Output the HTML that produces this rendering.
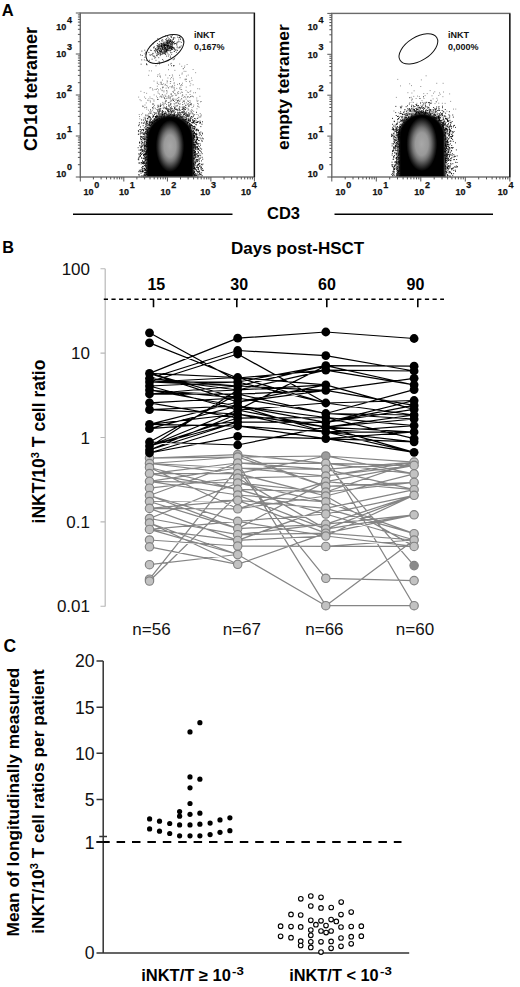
<!DOCTYPE html><html><head><meta charset="utf-8"><style>
html,body{margin:0;padding:0;background:#fff;overflow:hidden;width:520px;height:987px;}
svg{display:block;}
</style></head><body>
<svg width="520" height="987" viewBox="0 0 520 987">
<path d="M194.5 145.7h0.9M201.7 170.6h0.9M137.9 134.4h0.9M196.1 133.3h0.9M155.7 120.7h0.9M144.2 138.0h0.9M147.2 174.3h0.9M140.3 153.7h0.9M201.7 157.3h0.9M193.7 172.8h0.9M195.8 139.6h0.9M202.0 121.8h0.9M167.8 115.0h0.9M145.8 137.1h0.9M142.0 161.9h0.9M193.7 172.3h0.9M196.4 136.9h0.9M139.0 156.8h0.9M179.7 112.7h0.9M196.1 134.7h0.9M184.4 113.3h0.9M144.6 145.5h0.9M186.1 113.1h0.9M196.6 171.4h0.9M139.5 171.7h0.9M153.3 116.5h0.9M178.9 112.7h0.9M144.9 145.8h0.9M153.3 115.8h0.9M143.5 144.9h0.9M143.2 130.8h0.9M193.6 136.1h0.9M147.1 150.1h0.9M147.1 146.6h0.9M144.6 170.0h0.9M193.2 166.6h0.9M199.5 143.7h0.9M194.6 168.7h0.9M166.5 109.3h0.9M184.6 119.4h0.9M193.2 130.4h0.9M140.0 156.1h0.9M190.5 118.4h0.9M193.4 139.0h0.9M146.6 154.5h0.9M144.2 136.9h0.9M146.1 130.9h0.9M194.0 152.2h0.9M146.7 134.4h0.9M150.5 113.3h0.9M195.6 120.9h0.9M193.4 140.4h0.9M200.0 158.1h0.9M193.1 163.0h0.9M144.2 150.9h0.9M196.6 130.2h0.9M196.4 143.8h0.9M189.2 123.3h0.9M169.4 113.7h0.9M194.0 150.5h0.9M138.6 150.1h0.9M176.0 109.2h0.9M143.7 144.6h0.9M197.7 169.1h0.9M157.1 119.6h0.9M194.1 158.1h0.9M197.6 151.5h0.9M184.3 109.8h0.9M156.5 120.3h0.9M176.1 116.2h0.9M194.2 171.4h0.9M151.9 122.6h0.9M162.8 117.2h0.9M169.9 114.4h0.9M139.4 129.6h0.9M157.3 107.1h0.9M197.5 174.6h0.9M149.3 123.0h0.9M139.9 155.8h0.9M193.0 165.0h0.9M143.2 163.0h0.9M200.2 155.7h0.9M155.5 113.3h0.9M148.0 128.8h0.9M197.4 164.6h0.9M143.7 154.5h0.9M183.7 106.8h0.9M159.0 116.1h0.9M158.0 106.2h0.9M172.0 114.8h0.9M170.4 103.6h0.9M146.7 140.4h0.9M196.6 138.9h0.9M140.6 152.7h0.9M166.3 112.9h0.9M179.5 116.9h0.9M197.5 137.7h0.9M147.4 131.4h0.9M144.9 158.9h0.9M161.9 114.9h0.9M142.7 125.7h0.9M146.1 142.9h0.9M194.9 175.3h0.9M201.5 124.2h0.9M141.4 171.6h0.9M147.1 143.6h0.9M140.0 136.3h0.9M193.0 148.9h0.9M147.8 129.7h0.9M147.0 144.2h0.9M142.4 145.2h0.9M196.5 137.6h0.9M154.4 112.6h0.9M193.4 128.6h0.9M145.3 115.1h0.9M193.1 138.3h0.9M140.0 170.1h0.9M152.4 117.4h0.9M142.7 171.4h0.9M189.6 124.6h0.9M160.9 115.1h0.9M146.8 140.6h0.9M148.9 116.4h0.9M143.9 170.3h0.9M140.9 149.0h0.9M146.7 150.0h0.9M156.1 119.7h0.9M158.6 117.0h0.9M177.3 114.1h0.9M163.2 114.6h0.9M183.3 120.0h0.9M144.7 175.7h0.9M146.9 150.7h0.9M196.4 162.0h0.9M168.5 115.9h0.9M186.3 114.8h0.9M197.1 160.8h0.9M145.9 159.0h0.9M193.8 135.7h0.9M141.1 136.9h0.9M143.6 154.9h0.9M144.6 153.9h0.9M138.4 174.8h0.9M141.4 158.1h0.9M180.3 113.2h0.9M195.3 124.3h0.9M142.3 142.5h0.9M146.9 146.4h0.9M172.8 115.8h0.9M146.7 142.5h0.9M196.4 136.6h0.9M143.7 151.6h0.9M189.1 125.8h0.9M178.6 108.3h0.9M138.2 125.7h0.9M146.6 142.3h0.9M176.7 109.9h0.9M138.8 124.7h0.9M158.2 118.0h0.9M199.0 173.4h0.9M162.8 111.8h0.9M196.0 169.9h0.9M142.0 137.0h0.9M141.7 149.4h0.9M194.2 118.5h0.9M188.7 121.3h0.9M171.3 108.8h0.9M174.2 114.4h0.9M145.2 153.7h0.9M146.8 171.7h0.9M173.9 115.5h0.9M146.2 153.2h0.9M195.6 142.7h0.9M184.9 119.5h0.9M196.1 175.1h0.9M144.1 165.5h0.9M196.3 142.0h0.9M199.2 150.4h0.9M198.0 164.3h0.9M193.2 168.1h0.9M196.1 142.6h0.9M185.1 121.6h0.9M145.3 154.9h0.9M149.2 128.1h0.9M145.0 172.9h0.9M190.1 127.9h0.9M194.2 120.7h0.9M172.7 116.2h0.9M145.2 169.7h0.9M193.0 122.6h0.9M196.5 157.1h0.9M163.6 116.6h0.9M151.5 123.0h0.9M200.1 145.2h0.9M196.0 140.4h0.9M197.5 148.8h0.9M196.9 161.4h0.9M193.9 167.0h0.9M198.7 163.9h0.9M167.4 109.1h0.9M196.0 143.9h0.9M146.3 176.9h0.9M194.5 144.6h0.9M147.0 151.0h0.9M142.5 150.4h0.9M157.0 110.1h0.9M159.1 111.4h0.9M141.4 169.8h0.9M193.3 120.8h0.9M144.3 133.8h0.9M145.1 145.9h0.9M202.6 170.2h0.9M143.1 138.9h0.9M197.9 169.6h0.9M150.4 125.8h0.9M164.0 115.5h0.9M158.1 116.7h0.9M197.0 159.5h0.9M145.9 167.0h0.9M190.4 127.0h0.9M194.7 127.2h0.9M192.6 121.0h0.9M182.0 112.6h0.9M145.6 123.5h0.9M146.7 125.3h0.9M197.8 130.4h0.9M198.3 155.4h0.9M145.5 137.0h0.9M164.0 98.2h0.9M143.9 127.8h0.9M193.4 146.8h0.9M197.4 137.6h0.9M192.1 120.2h0.9M194.1 132.7h0.9M192.8 133.4h0.9M194.5 168.9h0.9M192.9 138.0h0.9M192.0 131.6h0.9M156.6 117.2h0.9M196.3 167.4h0.9M149.4 117.4h0.9M142.2 170.6h0.9M195.4 156.2h0.9M194.4 167.6h0.9M200.1 151.1h0.9M146.5 123.5h0.9M191.1 125.4h0.9M179.0 115.5h0.9M183.5 108.8h0.9M181.2 116.7h0.9M138.5 134.0h0.9M154.7 120.6h0.9M183.3 119.9h0.9M202.0 133.9h0.9M172.8 111.0h0.9M199.6 174.6h0.9M146.8 149.9h0.9M146.4 146.7h0.9M153.4 119.2h0.9M139.3 143.2h0.9M183.6 117.8h0.9M188.7 106.0h0.9M192.9 173.5h0.9M185.9 121.4h0.9M196.3 129.4h0.9M192.8 174.9h0.9M144.6 149.2h0.9M199.3 166.5h0.9M194.3 175.2h0.9M179.6 110.5h0.9M194.4 152.3h0.9M139.1 142.2h0.9M200.0 122.4h0.9M193.7 121.9h0.9M142.2 129.5h0.9M195.5 134.8h0.9M190.0 120.6h0.9M194.3 136.8h0.9M182.5 108.0h0.9M176.7 116.8h0.9M194.9 147.2h0.9M174.1 113.5h0.9M150.0 109.9h0.9M147.5 127.4h0.9M142.4 138.9h0.9M201.7 141.4h0.9M193.6 136.5h0.9M195.6 135.8h0.9M151.8 122.6h0.9M194.5 144.6h0.9M199.3 132.9h0.9M148.8 121.7h0.9M195.4 173.5h0.9M170.4 115.3h0.9M153.8 121.8h0.9M156.6 115.3h0.9M144.9 172.5h0.9M194.9 156.8h0.9M170.1 108.9h0.9M195.2 147.8h0.9M146.4 141.7h0.9M196.9 156.9h0.9M149.3 123.1h0.9M142.2 163.6h0.9M197.2 173.0h0.9M182.7 118.8h0.9M199.5 174.9h0.9M197.5 143.7h0.9M189.7 127.3h0.9M193.1 126.6h0.9M156.6 118.0h0.9M198.8 133.0h0.9M175.7 114.7h0.9M168.0 111.1h0.9M194.4 144.4h0.9M173.7 115.5h0.9M167.7 116.1h0.9M138.9 170.3h0.9M164.7 112.3h0.9M161.6 113.0h0.9M202.3 159.2h0.9M146.3 139.3h0.9M146.6 125.0h0.9M146.5 174.0h0.9M160.3 108.6h0.9M198.8 140.6h0.9M169.8 107.6h0.9M141.7 141.0h0.9M195.5 146.4h0.9M190.1 125.7h0.9M187.5 116.0h0.9M199.2 171.0h0.9M190.9 124.6h0.9M145.0 120.2h0.9M144.8 176.9h0.9M197.8 167.5h0.9M157.4 99.4h0.9M145.1 160.5h0.9M189.9 117.7h0.9M145.6 172.9h0.9M176.6 105.9h0.9M194.0 172.1h0.9M187.3 114.4h0.9M194.9 142.1h0.9M141.6 171.3h0.9M152.5 120.4h0.9M140.4 137.2h0.9M157.6 111.7h0.9M188.6 120.7h0.9M143.0 120.0h0.9M141.3 176.8h0.9M166.7 114.6h0.9M141.3 167.7h0.9M197.3 121.6h0.9M146.2 168.0h0.9M190.0 127.8h0.9M197.4 149.0h0.9M146.4 121.7h0.9M144.1 154.9h0.9M145.7 144.6h0.9M187.4 115.4h0.9M166.0 106.9h0.9M170.1 110.4h0.9M195.1 141.6h0.9M140.6 173.2h0.9M165.8 108.7h0.9M193.8 172.8h0.9M138.3 159.8h0.9M145.7 174.6h0.9M196.1 112.3h0.9M190.9 125.7h0.9M139.0 163.0h0.9M151.1 121.7h0.9M141.5 175.5h0.9M191.3 130.8h0.9M140.9 141.7h0.9M201.9 168.6h0.9M197.9 164.6h0.9M152.6 120.5h0.9M195.9 159.9h0.9M196.8 153.7h0.9M198.0 152.4h0.9M196.7 149.8h0.9M185.7 116.6h0.9M194.0 135.4h0.9M140.6 132.1h0.9M168.4 105.7h0.9M138.3 171.7h0.9M154.9 116.7h0.9M193.5 157.1h0.9M201.4 140.4h0.9M156.2 117.6h0.9M194.3 175.1h0.9M173.1 100.5h0.9M191.4 122.6h0.9M147.2 145.3h0.9M167.9 113.1h0.9M198.3 172.2h0.9M144.6 155.2h0.9M149.8 120.1h0.9M193.1 150.7h0.9M192.2 117.1h0.9M197.8 130.1h0.9M195.7 175.3h0.9M154.6 118.5h0.9M185.4 120.0h0.9M150.9 119.1h0.9M144.7 119.0h0.9M200.0 123.0h0.9M183.8 111.4h0.9M174.6 106.1h0.9M148.2 124.2h0.9M197.0 147.6h0.9M196.8 167.4h0.9M193.9 168.5h0.9M164.0 116.9h0.9M182.3 119.4h0.9M198.6 158.0h0.9M194.2 174.8h0.9M145.3 139.1h0.9M201.2 149.1h0.9M146.9 149.2h0.9M167.4 111.0h0.9M146.7 135.3h0.9M154.2 120.9h0.9M182.6 112.0h0.9M146.7 127.6h0.9M144.1 154.4h0.9M171.5 111.6h0.9M183.3 114.1h0.9M195.4 149.0h0.9M193.1 173.9h0.9M198.3 175.1h0.9M143.1 155.7h0.9M195.0 151.8h0.9M159.6 115.5h0.9M147.1 118.7h0.9M156.4 120.0h0.9M145.2 159.2h0.9M196.7 175.7h0.9M146.0 162.8h0.9M193.9 133.5h0.9M146.1 121.8h0.9M142.3 150.1h0.9M146.9 132.6h0.9M188.6 119.8h0.9M144.0 163.0h0.9M161.9 110.5h0.9M192.9 116.2h0.9M143.6 162.4h0.9M173.9 114.9h0.9M155.0 117.6h0.9M186.5 119.7h0.9M193.3 134.3h0.9M163.8 113.6h0.9M145.7 133.9h0.9M149.0 123.0h0.9M195.2 169.3h0.9M185.2 115.4h0.9M189.7 104.5h0.9M182.1 112.4h0.9M146.3 152.6h0.9M143.0 129.6h0.9M150.9 122.3h0.9M174.1 108.7h0.9M139.9 153.8h0.9M156.5 118.3h0.9M160.5 117.0h0.9M142.2 146.1h0.9M186.3 115.0h0.9M138.6 174.9h0.9M201.2 172.8h0.9M145.3 169.6h0.9M143.7 143.5h0.9M197.0 146.6h0.9M143.9 142.7h0.9M193.8 162.1h0.9M144.9 157.3h0.9M176.6 116.4h0.9M177.2 115.5h0.9M161.5 111.8h0.9M188.4 118.7h0.9M194.1 152.4h0.9M194.2 155.1h0.9M147.9 127.9h0.9M145.9 168.2h0.9M174.1 107.7h0.9M188.1 120.1h0.9M138.9 122.8h0.9M141.0 143.9h0.9M142.5 176.4h0.9M158.6 110.4h0.9M190.7 104.8h0.9M171.1 112.9h0.9M159.4 117.0h0.9M195.5 165.4h0.9M188.2 120.3h0.9M171.6 108.5h0.9M140.8 133.2h0.9M188.3 116.7h0.9M152.3 122.9h0.9M145.7 173.8h0.9M155.1 116.8h0.9M178.4 112.7h0.9M173.1 115.4h0.9M164.1 113.4h0.9M145.4 128.8h0.9M173.8 115.5h0.9M147.0 129.0h0.9M149.7 119.9h0.9M154.8 119.8h0.9M146.5 170.6h0.9M197.0 138.6h0.9M167.4 110.2h0.9M146.9 152.6h0.9M164.9 101.8h0.9M139.4 176.2h0.9M187.0 122.8h0.9M143.9 148.8h0.9M145.8 128.8h0.9M158.3 114.8h0.9M195.2 157.5h0.9M193.9 132.0h0.9M161.3 117.9h0.9M198.1 143.9h0.9M199.6 173.0h0.9M146.5 145.3h0.9M146.3 163.1h0.9M141.0 154.5h0.9M195.6 130.3h0.9M194.0 137.3h0.9M194.3 126.3h0.9M140.1 127.0h0.9M143.4 158.6h0.9M140.0 153.0h0.9M146.7 136.8h0.9M202.6 170.5h0.9M143.9 139.3h0.9M152.0 107.7h0.9M180.4 116.4h0.9M179.4 117.4h0.9M188.3 119.9h0.9M200.6 168.6h0.9M197.8 153.1h0.9M141.2 119.9h0.9M142.5 166.8h0.9M194.4 148.9h0.9M142.5 163.4h0.9M160.7 113.8h0.9M143.4 161.8h0.9M142.4 132.5h0.9M143.4 134.4h0.9M201.9 175.8h0.9M155.0 120.4h0.9M188.4 120.1h0.9M189.9 126.0h0.9M198.8 171.6h0.9M199.5 153.9h0.9M193.6 136.6h0.9M198.2 148.6h0.9M184.1 120.8h0.9M155.6 119.2h0.9M164.4 113.7h0.9M162.8 116.4h0.9M196.1 159.4h0.9M143.7 168.7h0.9M146.0 144.6h0.9M194.5 147.7h0.9M195.3 149.8h0.9M194.7 146.1h0.9M146.4 146.2h0.9M192.0 128.1h0.9M151.1 124.2h0.9M142.5 170.2h0.9M144.1 174.2h0.9M150.4 118.9h0.9M190.7 103.7h0.9M142.7 123.0h0.9M194.4 129.3h0.9M195.6 154.7h0.9M148.7 116.6h0.9M201.1 152.1h0.9M189.4 123.8h0.9M138.7 154.7h0.9M197.2 118.4h0.9M194.4 175.0h0.9M144.3 163.5h0.9M188.5 121.1h0.9M157.6 116.0h0.9M149.2 125.3h0.9M201.9 133.1h0.9M196.6 129.3h0.9M142.7 138.1h0.9M186.8 122.5h0.9M146.7 133.2h0.9M149.9 122.4h0.9M194.0 176.1h0.9M145.9 151.8h0.9M158.7 118.6h0.9M162.1 115.7h0.9M194.0 154.3h0.9M137.7 147.7h0.9M197.0 144.2h0.9M142.9 154.2h0.9M195.1 134.2h0.9M154.0 119.1h0.9M140.7 162.5h0.9M145.7 153.0h0.9M192.7 128.1h0.9M183.3 108.7h0.9M197.4 176.8h0.9M145.0 131.6h0.9M202.8 138.8h0.9M193.0 160.9h0.9M146.8 130.8h0.9M200.7 167.3h0.9M146.1 142.7h0.9M195.6 153.8h0.9M163.5 107.1h0.9M143.8 145.4h0.9M181.8 118.9h0.9M149.1 128.4h0.9M198.5 155.5h0.9M195.6 141.6h0.9M196.5 166.8h0.9M141.7 151.0h0.9M184.6 113.7h0.9M143.6 176.2h0.9M188.2 112.9h0.9M195.9 124.8h0.9M162.2 114.5h0.9M198.4 160.1h0.9M197.8 167.7h0.9M142.0 160.7h0.9M142.0 171.5h0.9M199.5 165.6h0.9M140.2 149.8h0.9M193.0 158.3h0.9M195.9 122.6h0.9M160.1 105.7h0.9M198.8 159.0h0.9M141.1 130.2h0.9M193.1 163.5h0.9M146.2 142.6h0.9M197.1 165.8h0.9M143.0 177.0h0.9M199.6 121.1h0.9M201.7 153.7h0.9M193.2 132.1h0.9M147.2 134.7h0.9M184.0 114.4h0.9M144.2 139.0h0.9M164.6 113.8h0.9M177.1 100.8h0.9M155.1 116.5h0.9M182.7 112.2h0.9M142.6 138.1h0.9M148.7 124.4h0.9M196.6 134.2h0.9M146.0 154.0h0.9M144.0 156.7h0.9M193.3 159.2h0.9M157.5 118.0h0.9M195.7 175.3h0.9M166.2 108.7h0.9M195.6 160.4h0.9M149.6 121.6h0.9M137.8 159.3h0.9M167.1 110.8h0.9M148.9 124.7h0.9M178.3 114.0h0.9M140.3 147.1h0.9M138.4 163.0h0.9M194.6 151.9h0.9M201.0 160.9h0.9M189.4 126.5h0.9M185.0 109.4h0.9M146.9 159.5h0.9M142.9 130.4h0.9M139.8 155.8h0.9M141.0 146.9h0.9M197.9 145.9h0.9M196.5 154.2h0.9M157.9 112.8h0.9M146.3 159.8h0.9M148.0 132.9h0.9M179.1 109.6h0.9M198.5 159.9h0.9M143.7 140.0h0.9M145.3 124.8h0.9M144.9 157.4h0.9M168.0 109.2h0.9M145.7 129.7h0.9M190.3 118.8h0.9M139.4 145.7h0.9M168.8 111.3h0.9M145.6 174.5h0.9M138.2 131.6h0.9M146.7 152.0h0.9M198.3 121.7h0.9M193.0 121.9h0.9M148.4 125.6h0.9M187.1 116.1h0.9M145.7 126.7h0.9M140.2 138.4h0.9M194.6 142.8h0.9M146.9 127.3h0.9M143.8 148.2h0.9M193.7 126.8h0.9M189.8 124.8h0.9M143.4 164.0h0.9M164.4 107.9h0.9M183.6 116.6h0.9M193.3 168.5h0.9M195.9 170.4h0.9M186.2 118.7h0.9M187.8 115.8h0.9M183.6 119.2h0.9M193.9 126.7h0.9M142.4 142.8h0.9M193.5 145.0h0.9M160.5 117.0h0.9M162.1 114.3h0.9M145.1 132.7h0.9M195.5 140.6h0.9M169.8 111.9h0.9M184.5 120.2h0.9M199.9 134.2h0.9M146.3 146.3h0.9M166.0 114.2h0.9M146.3 129.4h0.9M142.5 162.1h0.9M145.7 154.7h0.9M185.6 119.7h0.9M141.3 149.9h0.9M142.6 171.1h0.9M199.5 137.8h0.9M153.3 123.0h0.9M162.0 112.5h0.9M154.0 119.2h0.9M192.8 144.4h0.9M145.5 146.3h0.9M184.7 113.0h0.9M195.3 154.0h0.9M193.4 147.5h0.9M198.8 135.1h0.9M199.0 123.0h0.9M185.4 105.2h0.9M193.9 164.9h0.9M173.3 114.3h0.9M199.9 148.2h0.9M193.4 145.6h0.9M145.8 122.4h0.9M194.4 128.1h0.9M146.5 170.6h0.9M200.8 169.6h0.9M144.8 154.3h0.9M137.9 130.6h0.9M187.1 115.9h0.9M145.2 164.8h0.9M145.0 149.1h0.9M188.1 122.5h0.9M194.9 155.2h0.9M140.9 136.9h0.9M182.1 109.5h0.9M144.4 160.9h0.9M144.4 135.8h0.9M193.8 144.5h0.9M165.3 108.6h0.9M185.6 117.5h0.9M182.5 116.7h0.9M142.2 172.0h0.9M165.6 116.0h0.9M150.8 124.2h0.9M146.3 131.7h0.9M194.3 155.6h0.9M192.9 121.7h0.9M146.4 147.9h0.9M201.9 138.1h0.9M198.0 140.4h0.9M194.0 132.5h0.9M181.2 117.5h0.9M147.1 130.0h0.9M155.1 116.8h0.9M181.0 112.2h0.9M144.1 146.2h0.9M193.9 146.2h0.9M193.4 137.6h0.9M171.3 111.6h0.9M145.8 153.3h0.9M157.9 113.3h0.9M158.8 114.6h0.9M194.9 145.1h0.9M143.0 155.1h0.9M186.7 115.7h0.9M143.9 175.1h0.9M144.4 147.7h0.9M157.2 119.1h0.9M185.1 107.6h0.9M186.7 116.5h0.9M191.9 125.5h0.9M183.1 114.8h0.9M141.1 139.6h0.9M164.9 111.8h0.9M143.7 168.7h0.9M165.2 113.7h0.9M195.1 133.6h0.9M198.4 149.6h0.9M144.2 122.1h0.9M156.7 120.0h0.9M180.7 114.8h0.9M144.9 175.7h0.9M147.1 121.1h0.9M145.1 126.8h0.9M190.1 121.2h0.9M193.3 147.2h0.9M146.1 150.8h0.9M200.5 138.8h0.9M197.0 139.6h0.9M153.9 114.5h0.9M169.6 98.2h0.9M197.5 165.3h0.9M197.8 168.7h0.9M146.1 133.6h0.9M193.1 142.4h0.9M159.3 109.6h0.9M198.0 149.1h0.9M193.9 128.5h0.9M149.8 125.3h0.9M181.9 117.1h0.9M168.0 111.7h0.9M145.8 143.8h0.9M159.7 110.7h0.9M193.0 171.0h0.9M158.7 118.2h0.9M156.0 115.7h0.9M139.9 150.3h0.9M141.1 157.9h0.9M144.6 159.0h0.9M149.7 120.8h0.9M141.3 146.7h0.9M144.8 133.4h0.9M192.1 126.8h0.9M195.1 151.6h0.9M172.0 110.7h0.9M151.9 121.6h0.9M193.9 123.3h0.9M143.7 134.5h0.9M145.7 165.5h0.9M143.5 175.6h0.9M183.5 114.8h0.9M161.0 116.3h0.9M146.9 137.5h0.9M196.9 122.5h0.9M144.3 158.8h0.9M195.9 147.9h0.9M194.8 161.4h0.9M145.7 170.8h0.9M193.6 158.3h0.9M144.2 172.8h0.9M145.1 153.9h0.9M144.8 129.7h0.9M146.4 174.7h0.9M191.8 122.8h0.9M195.9 129.4h0.9M194.5 159.0h0.9M192.8 173.1h0.9M140.1 133.9h0.9M174.6 108.3h0.9M196.9 171.6h0.9M195.8 130.8h0.9M142.2 151.3h0.9M145.3 151.4h0.9M197.0 147.8h0.9M194.2 121.0h0.9M170.3 114.5h0.9M193.0 173.6h0.9M186.0 119.0h0.9M143.8 168.4h0.9M164.1 113.7h0.9M194.4 169.0h0.9M194.1 167.6h0.9M194.1 136.3h0.9M143.8 172.7h0.9M160.0 106.6h0.9M147.7 117.0h0.9M192.7 114.1h0.9M141.6 143.0h0.9M143.6 174.8h0.9M194.7 174.2h0.9M199.5 117.0h0.9M142.8 158.7h0.9M196.9 155.5h0.9M200.6 166.8h0.9M141.1 162.7h0.9M141.8 153.4h0.9M160.3 116.4h0.9M150.2 125.2h0.9M146.9 176.4h0.9M179.7 116.4h0.9M140.4 129.7h0.9M186.6 122.7h0.9M169.4 109.4h0.9M198.9 146.7h0.9M138.5 153.7h0.9M192.7 135.0h0.9M191.8 122.4h0.9M193.8 139.6h0.9M185.4 118.0h0.9M145.4 152.3h0.9M193.5 155.6h0.9M146.0 172.5h0.9M196.1 134.7h0.9M191.1 116.8h0.9M189.4 123.5h0.9M200.4 126.6h0.9M182.0 116.9h0.9M146.5 133.2h0.9M180.1 115.0h0.9M195.3 118.9h0.9M194.6 163.3h0.9M143.6 150.7h0.9M161.7 116.0h0.9M187.0 123.4h0.9M199.4 163.8h0.9M143.6 147.1h0.9M176.9 115.3h0.9M140.4 139.7h0.9M145.5 165.1h0.9M171.0 112.1h0.9M143.4 123.4h0.9M197.7 171.3h0.9M195.8 139.2h0.9M194.8 152.6h0.9M158.8 113.3h0.9M196.8 122.3h0.9M144.2 146.4h0.9M167.0 116.3h0.9M196.7 143.1h0.9M171.0 112.2h0.9M142.7 163.2h0.9M145.8 157.4h0.9M160.5 114.5h0.9M139.9 171.4h0.9M144.3 154.0h0.9M146.9 118.6h0.9M139.2 142.4h0.9M196.3 147.0h0.9M146.6 122.2h0.9M147.1 131.0h0.9M194.9 162.5h0.9M142.3 133.8h0.9M178.0 114.7h0.9M200.9 135.7h0.9M193.3 144.2h0.9M157.0 116.6h0.9M192.9 173.0h0.9M189.1 115.8h0.9M176.1 109.5h0.9M144.3 168.7h0.9M162.1 112.0h0.9M182.6 107.3h0.9M162.5 111.4h0.9M169.0 115.3h0.9M192.4 119.4h0.9M138.3 158.7h0.9M197.9 130.9h0.9M144.3 161.7h0.9M193.7 128.9h0.9M167.9 102.7h0.9M189.8 119.4h0.9M185.4 120.1h0.9M140.7 163.9h0.9M150.0 123.0h0.9M150.0 117.7h0.9M145.3 163.1h0.9M147.0 140.0h0.9M156.2 116.8h0.9M142.0 168.3h0.9M183.6 112.2h0.9M141.9 169.0h0.9M154.1 121.2h0.9M144.5 141.6h0.9M193.4 133.4h0.9M146.8 132.5h0.9M156.1 116.6h0.9M193.1 131.2h0.9M146.2 151.3h0.9M173.4 111.3h0.9M195.7 137.5h0.9M192.8 144.0h0.9M144.7 169.9h0.9M197.1 139.5h0.9M143.2 133.7h0.9M193.3 164.6h0.9M141.6 151.2h0.9M147.2 123.7h0.9M174.9 112.2h0.9M145.4 166.3h0.9M170.3 104.7h0.9M164.0 114.4h0.9M199.9 174.3h0.9M148.3 117.1h0.9M181.8 112.2h0.9M144.0 132.9h0.9M162.3 113.3h0.9M144.5 157.0h0.9M141.0 122.9h0.9M152.7 116.0h0.9M195.7 146.9h0.9M188.8 124.9h0.9M202.5 164.1h0.9M142.9 136.5h0.9M195.4 176.9h0.9M144.2 139.6h0.9M146.8 171.9h0.9M201.0 164.3h0.9M200.7 167.6h0.9M152.6 116.2h0.9M198.8 163.5h0.9M143.3 152.2h0.9M201.1 174.9h0.9M173.7 110.7h0.9M146.5 157.2h0.9M171.5 115.0h0.9M145.8 124.9h0.9M195.2 163.0h0.9M144.7 138.9h0.9M143.4 158.0h0.9M178.8 114.2h0.9M145.1 170.1h0.9M179.0 106.9h0.9M200.4 132.0h0.9M195.6 122.5h0.9M180.6 117.9h0.9M142.9 162.2h0.9M194.9 148.7h0.9M160.9 118.1h0.9M187.1 121.1h0.9M140.6 147.3h0.9M152.0 123.4h0.9M178.0 100.2h0.9M193.1 135.5h0.9M194.6 164.1h0.9M196.3 161.2h0.9M148.7 122.3h0.9M143.6 149.9h0.9M145.8 120.9h0.9M194.4 153.6h0.9M146.3 156.6h0.9M194.6 154.8h0.9M194.5 142.7h0.9M159.2 118.6h0.9M175.2 109.5h0.9M177.0 112.8h0.9M201.7 164.8h0.9M144.4 141.7h0.9M193.8 151.9h0.9M153.4 121.6h0.9M142.3 166.6h0.9M153.3 121.9h0.9M193.5 165.7h0.9M144.9 166.0h0.9M143.2 162.7h0.9M158.6 116.6h0.9M193.0 153.0h0.9M198.1 156.6h0.9M191.0 116.6h0.9M139.9 131.8h0.9M175.7 102.7h0.9M145.6 163.4h0.9M151.5 122.8h0.9M168.0 111.2h0.9M142.7 166.3h0.9M141.4 145.2h0.9M157.1 116.3h0.9M200.6 176.9h0.9M198.8 161.7h0.9M163.5 114.6h0.9M138.4 157.3h0.9M192.5 122.9h0.9M198.4 171.9h0.9" stroke="#000" stroke-width="0.9" fill="none"/>
<path d="M148.0 110.2h0.8M174.5 99.2h0.8M171.9 86.1h0.8M182.1 83.2h0.8M166.6 98.2h0.8M164.1 114.4h0.8M190.2 96.5h0.8M148.0 118.8h0.8M160.0 103.8h0.8M196.8 101.6h0.8M161.2 118.3h0.8M174.3 117.8h0.8M190.4 83.8h0.8M146.7 115.1h0.8M189.2 114.3h0.8M161.8 115.8h0.8M191.0 78.0h0.8M173.7 83.7h0.8M184.4 66.0h0.8M184.2 67.4h0.8M184.1 101.8h0.8M168.9 118.3h0.8M167.4 108.5h0.8M156.1 112.8h0.8M148.3 75.3h0.8M185.3 105.8h0.8M161.2 97.0h0.8M147.9 115.1h0.8M187.6 96.8h0.8M183.0 68.7h0.8M172.2 99.1h0.8M179.4 88.8h0.8M175.6 100.4h0.8M189.7 91.7h0.8M181.5 117.4h0.8M147.1 100.2h0.8M162.6 97.1h0.8M157.1 99.5h0.8M193.3 111.4h0.8M166.3 118.1h0.8M180.6 114.7h0.8M146.3 93.3h0.8M159.0 111.7h0.8M160.4 111.3h0.8M170.6 114.9h0.8M187.8 101.2h0.8M166.3 107.8h0.8M177.4 93.8h0.8M157.6 99.5h0.8M182.0 108.9h0.8M161.6 117.2h0.8M182.8 100.9h0.8M178.7 114.8h0.8M195.2 92.7h0.8M189.7 94.5h0.8M160.7 83.9h0.8M185.7 99.1h0.8M197.1 106.1h0.8M196.4 98.0h0.8M162.3 87.0h0.8M161.1 115.3h0.8M144.6 105.0h0.8M180.5 107.1h0.8M138.3 97.1h0.8M152.1 104.1h0.8M179.1 109.0h0.8M177.0 92.3h0.8M193.1 115.6h0.8M184.3 109.6h0.8M167.2 116.1h0.8M158.3 116.3h0.8M163.5 91.9h0.8M175.3 95.4h0.8M189.4 97.5h0.8M162.6 108.0h0.8M152.3 98.8h0.8M160.9 83.1h0.8M177.5 101.3h0.8M165.3 96.1h0.8M156.9 83.5h0.8M171.5 114.6h0.8M163.3 83.8h0.8M181.7 116.6h0.8M174.1 90.1h0.8M139.4 118.8h0.8M164.6 85.1h0.8M145.3 98.4h0.8M172.9 109.9h0.8M165.9 85.6h0.8M183.1 110.4h0.8M177.4 115.0h0.8M190.7 110.9h0.8M181.8 73.0h0.8M187.3 104.6h0.8M177.5 113.8h0.8M169.1 102.3h0.8M168.0 88.0h0.8M171.2 106.5h0.8M163.1 114.6h0.8M170.5 111.3h0.8M165.3 100.6h0.8M153.7 94.9h0.8M175.9 116.8h0.8M165.9 101.1h0.8M167.2 116.2h0.8M189.0 102.6h0.8M169.7 96.8h0.8M152.9 103.8h0.8M171.0 93.8h0.8M182.4 95.5h0.8M161.6 95.1h0.8M142.3 113.3h0.8M172.6 117.4h0.8M173.2 65.9h0.8M181.0 112.5h0.8M140.7 100.7h0.8M168.9 114.6h0.8M177.7 110.4h0.8M168.2 69.7h0.8M157.8 93.2h0.8M166.0 90.6h0.8M163.8 97.4h0.8M160.8 84.5h0.8M143.6 117.8h0.8M159.2 112.6h0.8M191.0 109.7h0.8M154.1 105.5h0.8M166.1 104.5h0.8M172.9 115.9h0.8M179.4 87.8h0.8M172.0 85.9h0.8M172.7 99.9h0.8M148.3 113.7h0.8M150.0 111.9h0.8M169.0 118.3h0.8M184.7 79.2h0.8M145.7 115.9h0.8M165.8 118.6h0.8M178.2 118.1h0.8M186.9 92.0h0.8M178.2 118.2h0.8M176.9 114.4h0.8M183.7 71.3h0.8M170.0 78.9h0.8M176.7 109.3h0.8M159.4 111.8h0.8M162.2 80.1h0.8M173.6 114.7h0.8M172.7 87.2h0.8M173.3 106.5h0.8M200.2 101.8h0.8M185.3 113.0h0.8M153.4 108.7h0.8M179.7 77.7h0.8M180.4 85.5h0.8M169.6 104.9h0.8M182.5 106.8h0.8M187.6 96.7h0.8M167.7 96.8h0.8M181.6 96.2h0.8M159.9 109.3h0.8M164.6 118.2h0.8M176.3 109.7h0.8M194.3 114.5h0.8M185.9 102.9h0.8M178.4 103.6h0.8M182.7 68.7h0.8M182.1 115.9h0.8M183.2 101.4h0.8M190.4 96.5h0.8M191.8 96.3h0.8M173.9 116.9h0.8M171.4 116.6h0.8M170.6 112.8h0.8M192.1 110.3h0.8M185.4 105.5h0.8M179.2 115.2h0.8M169.6 86.7h0.8M159.0 108.6h0.8M166.6 90.9h0.8M157.0 111.1h0.8M193.4 105.1h0.8M189.8 113.0h0.8M167.2 81.2h0.8M183.8 107.2h0.8M188.5 114.5h0.8M167.5 78.0h0.8M144.0 107.7h0.8M189.6 100.6h0.8M199.3 88.9h0.8M158.2 89.9h0.8M171.2 77.5h0.8M163.6 90.8h0.8M174.1 101.5h0.8M185.9 79.4h0.8M170.3 94.1h0.8M190.4 90.8h0.8M156.1 96.2h0.8M166.4 98.4h0.8M149.6 97.0h0.8M188.3 118.6h0.8M149.9 102.1h0.8M173.7 88.6h0.8M179.9 93.2h0.8M148.1 116.7h0.8M179.1 104.2h0.8M183.7 101.6h0.8M181.3 89.5h0.8M171.1 94.7h0.8M159.1 117.3h0.8M188.0 103.9h0.8M167.4 118.5h0.8M153.0 106.4h0.8M184.2 108.7h0.8M168.4 96.9h0.8M171.6 112.5h0.8M174.8 94.0h0.8M162.2 94.5h0.8M150.4 87.6h0.8M150.1 113.2h0.8M185.2 97.1h0.8M152.5 90.1h0.8M160.3 104.6h0.8M157.7 117.3h0.8M166.6 109.1h0.8M171.5 96.1h0.8M171.9 74.9h0.8M186.9 116.2h0.8M174.5 70.4h0.8M180.5 117.2h0.8M166.7 82.9h0.8M142.9 106.3h0.8M179.0 75.3h0.8M145.2 118.7h0.8M143.8 92.6h0.8M199.8 113.5h0.8M161.5 90.1h0.8M177.3 105.4h0.8M191.6 80.4h0.8M176.9 98.4h0.8M188.0 106.5h0.8M185.7 79.1h0.8M152.1 88.9h0.8M168.5 106.3h0.8M186.8 116.0h0.8M177.3 111.0h0.8M197.0 103.5h0.8M158.2 114.7h0.8M182.3 94.6h0.8M174.5 90.0h0.8M150.9 111.8h0.8M165.7 88.1h0.8M183.3 109.7h0.8M148.8 70.8h0.8M161.0 113.2h0.8M160.9 114.7h0.8M159.3 73.9h0.8M178.5 97.4h0.8M153.5 100.0h0.8M171.4 110.3h0.8M176.3 114.8h0.8M195.3 72.7h0.8M150.0 117.0h0.8M175.0 115.7h0.8M151.0 70.9h0.8M171.6 108.3h0.8M155.9 109.5h0.8M172.5 99.6h0.8M182.3 112.0h0.8M196.4 100.1h0.8M186.2 118.9h0.8M157.5 91.8h0.8M165.5 96.4h0.8M170.3 64.1h0.8M153.0 112.2h0.8M139.6 99.7h0.8M174.4 109.2h0.8M155.4 113.7h0.8M180.5 89.6h0.8M138.8 114.5h0.8M160.1 88.9h0.8M181.1 92.1h0.8M155.0 108.3h0.8M175.3 117.3h0.8M177.0 84.4h0.8M160.0 113.6h0.8M146.4 109.1h0.8M175.8 99.3h0.8M178.4 109.9h0.8M167.1 86.1h0.8M179.2 111.0h0.8M169.8 97.3h0.8M185.8 94.7h0.8M190.2 102.1h0.8M173.5 58.7h0.8M159.9 108.6h0.8M166.2 117.3h0.8M191.3 111.6h0.8M173.2 80.0h0.8M181.6 74.1h0.8M174.8 107.5h0.8M178.3 91.6h0.8M159.0 117.1h0.8M193.9 114.9h0.8M173.6 113.0h0.8M156.2 115.4h0.8M188.7 115.0h0.8M173.6 103.8h0.8M165.5 107.5h0.8M193.3 92.8h0.8M144.9 118.0h0.8M161.8 90.7h0.8M168.1 112.1h0.8M159.7 116.0h0.8M168.5 113.8h0.8M187.7 114.4h0.8M167.8 118.4h0.8M172.7 98.4h0.8M170.4 81.6h0.8M183.6 117.2h0.8M174.4 93.5h0.8M142.4 106.6h0.8M199.5 96.3h0.8M175.8 118.0h0.8M178.1 103.1h0.8M196.6 114.5h0.8M196.6 108.8h0.8M162.7 103.3h0.8M182.3 104.6h0.8M188.4 110.0h0.8M198.2 115.2h0.8M174.2 113.3h0.8M192.7 69.5h0.8M168.3 116.2h0.8M179.5 101.2h0.8M177.8 103.7h0.8M185.6 90.4h0.8M182.5 113.0h0.8M181.8 111.5h0.8M186.0 108.2h0.8M182.0 92.4h0.8M176.2 95.2h0.8M158.4 84.4h0.8M187.4 108.2h0.8M140.5 91.3h0.8M176.4 88.4h0.8M174.1 117.2h0.8M187.8 75.1h0.8M193.1 96.8h0.8M168.1 104.8h0.8M183.8 100.4h0.8M173.3 91.2h0.8M156.9 86.2h0.8M189.7 85.7h0.8M177.2 117.0h0.8M148.5 100.6h0.8M163.4 115.6h0.8M175.1 118.0h0.8M171.5 109.7h0.8M182.4 104.5h0.8M185.8 87.1h0.8M171.0 86.8h0.8M141.3 114.7h0.8M185.7 115.0h0.8M173.0 114.2h0.8M155.9 89.5h0.8M163.1 108.6h0.8M162.9 96.0h0.8M193.1 106.6h0.8M168.4 95.5h0.8M187.2 116.2h0.8M177.4 113.4h0.8M176.3 117.2h0.8M168.9 106.3h0.8M177.3 102.2h0.8M186.9 97.2h0.8M169.9 81.5h0.8M179.8 114.8h0.8M173.9 87.3h0.8M163.6 104.7h0.8M200.8 115.0h0.8M181.4 66.3h0.8M165.1 108.6h0.8M188.0 109.1h0.8M166.3 107.1h0.8M180.0 103.9h0.8M187.6 118.2h0.8M184.1 96.6h0.8M170.8 113.6h0.8M189.4 114.2h0.8M167.8 87.6h0.8M187.5 110.0h0.8M184.2 103.6h0.8M163.6 117.1h0.8M169.5 109.0h0.8M158.4 105.2h0.8M186.1 114.6h0.8M183.4 97.5h0.8M166.6 81.0h0.8M179.3 64.0h0.8M156.8 88.5h0.8M185.7 114.5h0.8M197.4 88.7h0.8M174.3 85.4h0.8M162.2 84.6h0.8M174.0 112.9h0.8M153.6 81.1h0.8M159.9 82.3h0.8M200.6 115.2h0.8M163.2 87.2h0.8M186.0 76.1h0.8M166.7 92.1h0.8M154.4 113.6h0.8M173.8 82.7h0.8M153.5 107.3h0.8M149.4 113.7h0.8M162.1 111.6h0.8M147.5 115.5h0.8M181.2 84.6h0.8M173.6 116.4h0.8M179.2 83.9h0.8M173.0 92.5h0.8M198.1 104.0h0.8M149.2 112.0h0.8M186.7 64.5h0.8M165.0 103.4h0.8M173.1 119.0h0.8M175.5 103.6h0.8M177.0 110.3h0.8M159.1 94.0h0.8M186.4 111.6h0.8M172.3 76.0h0.8M190.6 116.8h0.8M161.3 105.4h0.8M186.5 118.6h0.8M172.5 119.0h0.8M172.8 112.2h0.8M168.1 114.6h0.8M187.1 100.9h0.8M179.8 99.9h0.8M179.2 83.6h0.8M159.4 106.3h0.8M189.8 111.1h0.8M175.4 118.3h0.8M158.5 118.9h0.8M164.6 95.0h0.8M142.3 105.9h0.8M160.0 96.2h0.8M182.2 102.4h0.8M188.8 113.4h0.8M200.5 116.7h0.8M185.8 81.5h0.8M164.8 98.9h0.8M171.5 87.7h0.8M177.2 100.6h0.8M172.8 100.2h0.8M149.5 117.5h0.8M163.4 117.4h0.8M177.6 118.9h0.8M158.5 108.1h0.8M159.5 96.9h0.8M157.6 74.7h0.8M181.8 85.3h0.8M172.5 95.5h0.8M149.5 87.9h0.8M187.9 92.5h0.8M159.6 111.2h0.8M178.3 97.7h0.8M188.3 105.5h0.8M160.2 77.2h0.8M177.0 109.5h0.8M152.0 114.3h0.8M171.6 96.3h0.8M161.2 96.9h0.8M197.8 117.2h0.8M146.3 107.2h0.8M191.7 96.1h0.8M172.8 78.3h0.8M170.9 100.3h0.8M181.4 99.0h0.8M144.7 117.2h0.8M163.2 105.2h0.8M168.0 98.0h0.8M163.3 115.9h0.8M197.8 106.4h0.8M144.1 97.0h0.8M148.5 98.8h0.8M163.7 115.0h0.8M192.7 84.8h0.8M169.3 75.5h0.8M166.4 93.7h0.8M157.9 111.5h0.8M156.5 113.9h0.8M150.2 101.0h0.8M177.9 93.4h0.8M172.4 91.6h0.8M157.6 109.4h0.8M181.1 98.6h0.8M157.1 105.3h0.8M156.8 82.1h0.8M157.8 109.5h0.8M169.8 105.1h0.8M188.2 101.4h0.8M162.2 87.8h0.8M185.5 71.4h0.8M153.6 101.2h0.8M168.1 118.5h0.8M152.5 108.9h0.8M169.4 112.4h0.8M189.4 81.9h0.8M166.0 114.7h0.8M145.8 102.9h0.8M154.6 89.4h0.8M159.1 115.4h0.8M198.7 107.2h0.8M180.8 109.5h0.8M191.9 113.1h0.8M189.3 81.3h0.8M156.9 97.6h0.8M191.7 107.5h0.8M169.9 100.0h0.8M197.6 100.7h0.8M188.8 114.3h0.8M160.9 82.2h0.8M172.1 115.7h0.8M191.9 113.4h0.8M163.8 103.3h0.8M165.6 118.4h0.8M159.5 76.2h0.8M165.3 75.0h0.8M165.9 113.8h0.8M158.6 111.7h0.8M152.4 104.0h0.8M190.5 113.7h0.8M162.4 102.4h0.8M183.3 115.0h0.8M171.6 112.2h0.8M191.3 112.3h0.8M150.7 98.5h0.8M151.8 110.6h0.8M157.2 76.3h0.8M169.2 117.1h0.8M176.3 106.0h0.8M162.2 113.1h0.8M169.9 83.5h0.8M185.7 114.3h0.8M139.2 116.5h0.8M184.8 79.8h0.8M170.1 101.7h0.8M158.6 109.5h0.8M171.3 101.0h0.8M171.0 107.3h0.8M158.1 116.6h0.8M175.5 118.9h0.8M149.7 118.2h0.8M182.2 112.7h0.8M159.8 76.0h0.8M166.2 100.7h0.8M163.4 113.9h0.8M145.6 107.5h0.8M200.8 101.5h0.8M174.2 104.0h0.8M162.3 87.7h0.8M180.5 87.1h0.8M179.0 101.3h0.8M153.4 104.3h0.8M177.8 115.3h0.8M187.6 103.7h0.8M165.0 84.4h0.8M161.9 104.5h0.8" stroke="#5a5a5a" stroke-width="0.8" fill="none"/>
<defs><clipPath id="cL"><rect x="137.5" y="0" width="200" height="177"/></clipPath><radialGradient id="gL" cx="0.5" cy="0.5" r="0.5"><stop offset="0" stop-color="#a8a8a8"/><stop offset="0.42" stop-color="#999"/><stop offset="0.6" stop-color="#747474"/><stop offset="0.76" stop-color="#444"/><stop offset="0.9" stop-color="#1a1a1a"/><stop offset="1" stop-color="#000"/></radialGradient><filter id="blL" x="-30%" y="-30%" width="160%" height="160%"><feGaussianBlur stdDeviation="1.2"/></filter></defs>
<g clip-path="url(#cL)"><g filter="url(#blL)"><ellipse cx="170" cy="139" rx="24.0" ry="24.0" fill="#000"/><rect x="146.0" y="139" width="48.0" height="43" fill="#000"/></g><ellipse cx="170" cy="146" rx="14.2" ry="26.0" fill="url(#gL)"/></g>
<path d="M447.6 175.6h0.9M447.1 154.3h0.9M393.6 133.3h0.9M395.9 135.8h0.9M424.5 112.8h0.9M444.6 151.8h0.9M400.6 121.1h0.9M392.8 171.1h0.9M442.2 124.2h0.9M396.0 145.9h0.9M448.7 172.0h0.9M399.4 138.9h0.9M447.4 159.0h0.9M418.1 105.6h0.9M398.5 133.8h0.9M424.9 113.0h0.9M421.9 108.4h0.9M396.7 161.8h0.9M445.5 166.5h0.9M448.9 111.7h0.9M396.7 169.9h0.9M399.1 130.8h0.9M397.4 141.4h0.9M447.2 144.5h0.9M439.2 110.5h0.9M395.9 174.1h0.9M451.0 147.6h0.9M442.8 111.4h0.9M396.9 130.1h0.9M438.3 120.4h0.9M445.0 129.8h0.9M399.1 145.2h0.9M442.9 122.9h0.9M449.7 125.7h0.9M404.6 120.8h0.9M393.9 175.2h0.9M450.1 160.7h0.9M450.5 160.6h0.9M402.0 124.1h0.9M394.2 136.5h0.9M432.4 113.0h0.9M399.4 154.7h0.9M425.4 113.8h0.9M451.8 133.1h0.9M414.0 109.6h0.9M449.7 166.7h0.9M403.8 114.3h0.9M397.4 163.1h0.9M399.0 147.8h0.9M439.2 116.8h0.9M433.0 110.1h0.9M402.1 114.3h0.9M447.5 159.0h0.9M416.8 105.7h0.9M446.6 131.7h0.9M430.3 114.6h0.9M396.3 153.4h0.9M393.0 150.7h0.9M418.8 108.1h0.9M443.7 130.8h0.9M410.2 110.4h0.9M423.3 107.5h0.9M453.9 156.8h0.9M451.4 168.8h0.9M395.4 145.7h0.9M446.4 172.4h0.9M447.2 126.7h0.9M396.4 166.9h0.9M427.3 108.1h0.9M445.8 141.9h0.9M456.5 167.3h0.9M449.0 159.9h0.9M429.3 109.8h0.9M446.9 156.0h0.9M395.2 128.0h0.9M409.7 109.6h0.9M444.8 143.9h0.9M411.1 106.4h0.9M392.2 173.4h0.9M439.4 115.2h0.9M398.0 138.3h0.9M411.8 111.9h0.9M412.2 113.9h0.9M398.1 162.0h0.9M447.9 152.6h0.9M439.2 120.2h0.9M399.4 150.6h0.9M433.3 114.7h0.9M446.6 153.4h0.9M432.6 109.8h0.9M398.4 129.6h0.9M436.2 117.8h0.9M392.1 151.5h0.9M444.3 155.6h0.9M413.6 111.2h0.9M448.9 135.1h0.9M401.5 117.2h0.9M398.3 162.2h0.9M396.2 132.7h0.9M441.2 124.5h0.9M408.0 117.5h0.9M411.4 105.2h0.9M399.9 126.5h0.9M398.6 152.0h0.9M424.7 112.1h0.9M446.9 148.9h0.9M423.7 113.0h0.9M396.0 163.9h0.9M449.1 131.3h0.9M452.9 117.1h0.9M429.8 115.0h0.9M393.0 156.8h0.9M453.1 167.9h0.9M445.6 128.5h0.9M400.2 111.8h0.9M398.9 150.3h0.9M398.9 175.8h0.9M394.5 153.1h0.9M425.3 112.2h0.9M445.2 170.0h0.9M423.0 109.6h0.9M442.6 126.0h0.9M456.6 162.5h0.9M445.7 162.3h0.9M418.8 113.8h0.9M397.2 173.1h0.9M442.9 123.3h0.9M402.9 120.7h0.9M448.3 166.2h0.9M404.7 119.0h0.9M398.4 161.7h0.9M444.6 139.1h0.9M450.4 158.9h0.9M423.2 108.1h0.9M398.9 122.2h0.9M399.0 145.3h0.9M409.1 108.6h0.9M408.2 116.7h0.9M446.8 144.8h0.9M396.6 142.8h0.9M399.2 146.1h0.9M419.7 114.0h0.9M447.1 120.5h0.9M402.3 119.4h0.9M454.9 170.2h0.9M442.9 127.3h0.9M444.3 147.7h0.9M452.2 139.6h0.9M393.4 168.8h0.9M438.4 118.6h0.9M395.5 147.2h0.9M447.6 144.7h0.9M398.9 173.6h0.9M394.9 146.1h0.9M443.1 124.9h0.9M396.3 153.1h0.9M444.8 139.3h0.9M439.0 119.0h0.9M438.1 118.2h0.9M449.2 155.4h0.9M448.6 152.0h0.9M411.3 116.1h0.9M446.8 119.4h0.9M452.1 135.2h0.9M394.8 149.1h0.9M447.3 131.0h0.9M395.7 140.6h0.9M406.8 118.6h0.9M413.9 110.0h0.9M454.1 125.4h0.9M393.3 129.7h0.9M446.2 172.4h0.9M446.5 169.1h0.9M413.1 105.8h0.9M434.6 114.3h0.9M444.8 143.0h0.9M419.0 107.2h0.9M451.3 145.5h0.9M396.7 167.0h0.9M393.4 141.2h0.9M448.4 150.5h0.9M446.5 141.8h0.9M447.0 137.8h0.9M399.7 132.2h0.9M415.5 111.9h0.9M393.3 167.1h0.9M448.8 128.9h0.9M448.3 165.8h0.9M394.7 162.3h0.9M425.0 113.8h0.9M444.8 109.5h0.9M394.9 145.6h0.9M399.8 124.4h0.9M413.9 111.2h0.9M391.3 174.4h0.9M397.3 137.0h0.9M394.5 135.0h0.9M448.9 126.7h0.9M415.4 112.1h0.9M401.4 106.2h0.9M392.8 167.3h0.9M396.6 171.7h0.9M445.1 132.5h0.9M395.9 169.4h0.9M452.3 168.2h0.9M450.6 155.0h0.9M449.9 131.2h0.9M434.4 117.6h0.9M445.1 144.4h0.9M441.9 115.2h0.9M395.0 161.8h0.9M397.6 127.5h0.9M401.5 120.4h0.9M426.5 111.1h0.9M448.2 120.9h0.9M418.3 113.3h0.9M422.5 111.4h0.9M445.3 142.8h0.9M397.1 175.3h0.9M394.3 131.8h0.9M443.3 122.9h0.9M453.1 125.9h0.9M435.7 111.2h0.9M451.2 157.8h0.9M435.1 112.1h0.9M444.3 134.5h0.9M395.4 146.4h0.9M442.0 126.4h0.9M444.5 150.1h0.9M391.1 134.3h0.9M449.9 143.8h0.9M427.1 110.5h0.9M425.8 102.4h0.9M398.3 118.7h0.9M406.9 115.5h0.9M397.4 141.7h0.9M448.0 146.3h0.9M416.3 105.1h0.9M445.0 137.2h0.9M425.5 112.8h0.9M419.7 111.6h0.9M445.6 162.7h0.9M399.5 134.3h0.9M431.6 113.5h0.9M397.4 176.4h0.9M448.5 148.0h0.9M452.1 131.7h0.9M398.4 154.0h0.9M438.4 119.1h0.9M394.3 139.2h0.9M398.4 167.1h0.9M415.6 113.8h0.9M403.7 122.6h0.9M437.7 117.3h0.9M397.9 136.5h0.9M451.2 150.9h0.9M437.3 114.7h0.9M444.6 166.8h0.9M397.3 173.0h0.9M416.5 108.2h0.9M452.6 157.1h0.9M416.0 105.2h0.9M398.7 133.7h0.9M399.2 140.9h0.9M398.3 130.1h0.9M398.9 158.1h0.9M396.1 132.7h0.9M395.3 164.1h0.9M427.4 113.5h0.9M393.7 147.0h0.9M447.4 139.3h0.9M447.4 170.7h0.9M444.9 159.0h0.9M416.2 108.8h0.9M447.7 163.5h0.9M418.9 113.7h0.9M396.5 168.3h0.9M395.9 135.0h0.9M397.0 126.7h0.9M445.8 128.3h0.9M446.0 156.8h0.9M398.5 171.3h0.9M411.5 108.9h0.9M448.5 141.3h0.9M410.9 108.8h0.9M424.9 106.1h0.9M445.4 144.4h0.9M420.6 113.4h0.9M415.5 110.7h0.9M398.2 137.8h0.9M395.6 140.4h0.9M453.7 159.5h0.9M446.7 164.7h0.9M419.6 109.9h0.9M438.3 108.0h0.9M393.7 169.3h0.9M445.7 145.9h0.9M446.9 174.7h0.9M395.9 131.4h0.9M451.4 168.6h0.9M452.9 126.9h0.9M444.6 130.6h0.9M403.3 112.5h0.9M450.2 141.0h0.9M397.4 134.4h0.9M456.7 155.9h0.9M410.4 110.8h0.9M420.3 108.6h0.9M398.4 170.9h0.9M393.6 148.3h0.9M396.3 128.6h0.9M442.8 119.4h0.9M404.6 117.2h0.9M450.8 173.3h0.9M436.6 116.9h0.9M453.6 131.5h0.9M393.1 147.1h0.9M438.6 120.0h0.9M445.1 136.1h0.9M448.4 168.7h0.9M405.7 106.7h0.9M447.8 121.4h0.9M449.8 176.0h0.9M448.2 133.8h0.9M455.9 166.0h0.9M397.8 134.6h0.9M391.1 136.3h0.9M449.3 137.3h0.9M436.5 117.8h0.9M395.9 124.2h0.9M445.2 133.1h0.9M394.6 126.7h0.9M428.6 112.5h0.9M412.6 109.0h0.9M453.2 173.7h0.9M393.0 172.9h0.9M407.4 108.6h0.9M400.4 107.5h0.9M418.3 112.4h0.9M399.1 136.4h0.9M405.6 115.4h0.9M396.1 176.0h0.9M396.3 137.9h0.9M450.5 164.3h0.9M447.2 121.0h0.9M438.0 117.1h0.9M444.8 171.3h0.9M445.5 140.7h0.9M438.2 116.7h0.9M444.4 148.4h0.9M444.8 124.5h0.9M400.6 107.3h0.9M395.3 112.6h0.9M447.3 149.2h0.9M449.9 130.2h0.9M445.0 149.6h0.9M455.2 162.3h0.9M445.2 113.2h0.9M443.7 129.4h0.9M421.3 110.5h0.9M455.1 142.8h0.9M396.4 175.4h0.9M393.8 121.2h0.9M391.6 135.7h0.9M450.4 158.6h0.9M442.7 122.9h0.9M450.7 131.1h0.9M397.6 139.9h0.9M448.9 133.8h0.9M445.8 148.0h0.9M418.4 112.4h0.9M448.9 171.7h0.9M428.4 110.2h0.9M446.5 150.8h0.9M431.3 111.2h0.9M397.9 139.7h0.9M434.9 118.0h0.9M395.1 165.2h0.9M447.4 146.3h0.9M395.9 162.1h0.9M410.5 111.5h0.9M436.4 118.4h0.9M444.7 154.5h0.9M435.2 109.5h0.9M397.6 157.7h0.9M399.2 129.8h0.9M393.7 139.7h0.9M428.8 109.0h0.9M453.3 170.4h0.9M399.2 162.4h0.9M448.0 158.6h0.9M445.9 118.7h0.9M421.4 107.0h0.9M436.7 113.1h0.9M425.1 105.9h0.9M393.2 159.2h0.9M447.3 142.6h0.9M449.0 134.6h0.9M447.2 130.7h0.9M401.6 118.9h0.9M396.4 133.9h0.9M429.0 105.0h0.9M443.5 129.3h0.9M423.1 113.0h0.9M448.6 173.0h0.9M446.1 155.4h0.9M442.9 127.0h0.9M400.8 113.6h0.9M417.5 107.0h0.9M440.0 120.9h0.9M411.1 114.7h0.9M446.5 153.9h0.9M403.8 119.0h0.9M443.4 112.0h0.9M450.7 138.1h0.9M450.3 126.1h0.9M444.7 149.4h0.9M396.2 142.6h0.9M447.3 175.2h0.9M446.2 119.1h0.9M398.4 164.8h0.9M435.8 108.8h0.9M448.1 138.9h0.9M397.5 152.9h0.9M396.3 142.4h0.9M391.8 129.6h0.9M398.2 132.3h0.9M446.1 160.6h0.9M437.2 110.6h0.9M445.2 159.6h0.9M397.9 131.7h0.9M397.8 155.3h0.9M438.8 108.9h0.9M400.3 121.3h0.9M456.9 166.5h0.9M397.9 137.5h0.9M449.8 154.2h0.9M398.5 157.5h0.9M395.4 176.2h0.9M398.8 137.5h0.9M450.0 172.2h0.9M406.2 117.5h0.9M439.0 119.8h0.9M402.3 120.8h0.9M444.1 129.9h0.9M418.8 112.9h0.9M398.2 134.5h0.9M439.0 119.2h0.9M393.0 129.8h0.9M394.8 148.8h0.9M450.9 134.6h0.9M417.9 112.9h0.9M448.1 135.3h0.9M399.1 151.5h0.9M445.7 143.7h0.9M447.5 160.1h0.9M444.4 151.1h0.9M416.9 112.9h0.9M446.0 146.2h0.9M397.6 170.8h0.9M421.3 106.9h0.9M448.1 149.3h0.9M435.7 108.8h0.9M452.4 163.7h0.9M399.2 152.3h0.9M439.6 115.7h0.9M446.3 146.3h0.9M447.3 167.2h0.9M391.4 136.0h0.9M445.4 162.8h0.9M392.2 150.4h0.9M429.6 111.0h0.9M394.1 166.5h0.9M441.5 114.4h0.9M397.0 163.9h0.9M445.3 168.9h0.9M398.5 131.8h0.9M395.4 106.4h0.9M441.4 122.1h0.9M442.3 120.1h0.9M398.8 133.9h0.9M445.0 166.1h0.9M391.7 143.8h0.9M441.4 122.5h0.9M440.9 120.8h0.9M398.5 154.1h0.9M444.9 156.8h0.9M435.6 118.7h0.9M443.0 118.9h0.9M395.2 129.6h0.9M396.5 123.4h0.9M406.2 113.6h0.9M449.5 172.1h0.9M446.4 159.0h0.9M392.9 135.1h0.9M418.4 107.7h0.9M433.5 115.5h0.9M445.0 146.5h0.9M403.7 118.0h0.9M447.3 158.1h0.9M444.8 157.4h0.9M392.6 159.3h0.9M448.5 138.7h0.9M447.5 124.6h0.9M394.8 147.7h0.9M443.9 125.0h0.9M423.8 113.0h0.9M417.7 112.3h0.9M418.4 110.1h0.9M452.8 132.6h0.9M393.5 147.3h0.9M395.5 168.7h0.9M399.1 136.7h0.9M398.3 159.9h0.9M393.9 172.9h0.9M399.4 133.3h0.9M406.4 119.2h0.9M438.4 121.1h0.9M397.9 116.3h0.9M442.4 125.5h0.9M433.4 117.0h0.9M396.4 157.4h0.9M444.6 136.1h0.9M437.5 116.8h0.9M407.0 105.8h0.9M406.0 119.5h0.9M411.0 116.8h0.9M429.9 103.3h0.9M395.4 140.1h0.9M421.6 107.0h0.9M447.4 125.0h0.9M392.2 124.3h0.9M444.7 145.5h0.9M447.1 140.8h0.9M393.9 142.4h0.9M399.4 151.5h0.9M446.5 132.6h0.9M445.5 173.5h0.9M445.2 161.5h0.9M407.2 114.2h0.9M447.5 166.0h0.9M447.4 154.7h0.9M442.7 117.8h0.9M396.4 162.7h0.9M446.5 144.6h0.9M437.9 115.7h0.9M395.2 137.8h0.9M414.0 110.8h0.9M400.8 128.5h0.9M399.7 130.8h0.9M396.2 150.6h0.9M447.0 141.0h0.9M447.0 168.1h0.9M405.5 115.8h0.9M442.1 107.7h0.9M452.2 148.0h0.9M401.4 117.2h0.9M449.7 122.3h0.9M427.7 107.6h0.9M448.2 160.4h0.9M398.3 158.9h0.9M451.3 169.8h0.9M394.7 125.1h0.9M397.6 154.2h0.9M393.6 171.5h0.9M447.0 155.6h0.9M436.4 116.3h0.9M400.0 127.1h0.9M431.8 116.3h0.9M442.6 124.4h0.9M415.6 111.5h0.9M426.2 110.1h0.9M425.2 112.7h0.9M424.2 114.3h0.9M394.9 150.6h0.9M447.3 120.7h0.9M396.0 159.7h0.9M413.8 114.3h0.9M409.4 111.6h0.9M423.1 96.8h0.9M397.1 116.5h0.9M441.7 110.5h0.9M430.6 113.1h0.9M446.6 133.8h0.9M444.4 135.7h0.9M448.0 160.2h0.9M409.5 110.5h0.9M395.3 130.9h0.9M447.7 152.6h0.9M403.4 121.7h0.9M433.7 113.9h0.9M434.5 112.1h0.9M400.0 113.4h0.9M399.1 130.7h0.9M394.8 137.4h0.9M445.7 147.6h0.9M455.9 149.9h0.9M423.3 113.0h0.9M445.4 171.7h0.9M448.1 151.7h0.9M444.6 176.9h0.9M394.6 167.0h0.9M445.3 148.8h0.9M393.4 157.4h0.9M451.9 153.7h0.9M397.5 147.6h0.9M397.4 150.7h0.9M397.3 122.1h0.9M400.2 127.1h0.9M399.7 129.4h0.9M448.1 127.2h0.9M426.5 112.9h0.9M452.4 135.6h0.9M444.5 140.1h0.9M396.3 162.2h0.9M408.2 113.9h0.9M444.9 151.5h0.9M437.8 117.0h0.9M398.9 163.7h0.9M391.6 162.2h0.9M450.9 150.6h0.9M392.9 136.8h0.9M395.8 115.5h0.9M429.7 110.8h0.9M427.2 113.0h0.9M439.8 117.8h0.9M398.1 138.8h0.9M447.7 166.3h0.9M438.1 110.2h0.9M434.8 110.2h0.9M394.4 162.0h0.9M438.4 117.4h0.9M396.6 146.4h0.9M433.2 107.5h0.9M395.6 154.0h0.9M445.6 128.4h0.9M409.4 114.3h0.9M447.1 161.1h0.9M403.7 111.7h0.9M446.1 158.4h0.9M397.4 147.3h0.9M443.8 120.2h0.9M446.7 141.9h0.9M445.9 154.3h0.9M392.3 128.8h0.9M419.5 107.6h0.9M415.0 114.5h0.9M447.2 168.4h0.9M391.7 145.9h0.9M447.7 151.1h0.9M444.3 124.2h0.9M413.3 109.4h0.9M392.4 175.9h0.9M399.0 131.3h0.9M398.0 134.5h0.9M451.2 173.6h0.9M398.8 168.7h0.9M440.3 122.9h0.9M444.5 151.7h0.9M423.3 103.2h0.9M398.6 153.4h0.9M447.2 129.4h0.9M396.1 160.9h0.9M394.4 140.7h0.9M445.4 162.3h0.9M397.4 149.7h0.9M395.6 157.9h0.9M397.0 135.9h0.9M399.2 148.5h0.9M448.9 135.0h0.9M391.7 155.1h0.9M439.0 117.9h0.9M450.7 126.8h0.9M442.2 123.9h0.9M450.4 141.2h0.9M393.2 144.0h0.9M397.4 174.0h0.9M449.1 127.1h0.9M393.4 171.0h0.9M394.0 168.6h0.9M409.3 113.8h0.9M392.0 135.1h0.9M392.4 171.8h0.9M450.5 122.5h0.9M422.6 110.6h0.9M449.0 132.3h0.9M399.5 132.9h0.9M445.7 154.1h0.9M397.6 135.0h0.9M449.6 165.5h0.9M394.6 142.0h0.9M450.5 123.1h0.9M394.6 164.8h0.9M426.1 113.0h0.9M440.8 120.3h0.9M393.3 150.9h0.9M402.1 116.9h0.9M399.4 170.4h0.9M413.6 109.3h0.9M448.1 123.4h0.9M430.5 100.4h0.9M451.2 138.3h0.9M445.4 129.5h0.9M398.4 175.4h0.9M405.9 111.4h0.9M435.8 101.8h0.9M397.7 119.0h0.9M398.2 144.4h0.9M393.9 121.6h0.9M445.6 167.7h0.9M398.6 140.8h0.9M445.9 129.8h0.9M392.4 164.6h0.9M443.9 132.2h0.9M444.2 124.9h0.9M452.3 115.0h0.9M393.6 137.3h0.9M398.7 163.2h0.9M419.2 111.0h0.9M443.7 123.3h0.9M416.5 109.8h0.9M442.5 126.1h0.9M425.1 111.3h0.9M452.8 141.4h0.9M428.9 113.8h0.9M409.3 97.7h0.9M447.3 167.2h0.9M416.0 114.0h0.9M417.7 111.5h0.9M400.5 116.4h0.9M406.3 119.5h0.9M396.4 167.7h0.9M392.9 133.3h0.9M405.7 119.1h0.9M434.1 116.0h0.9M401.8 121.1h0.9M396.4 139.1h0.9M416.1 112.3h0.9M416.8 109.5h0.9M446.2 158.2h0.9M396.0 127.8h0.9M442.0 106.2h0.9M422.8 111.6h0.9M397.0 146.0h0.9M392.1 118.4h0.9M448.9 154.3h0.9M399.0 134.6h0.9M396.4 130.1h0.9M420.9 111.6h0.9M446.9 167.4h0.9M411.7 115.2h0.9M445.3 160.6h0.9M451.6 168.8h0.9M445.3 145.5h0.9M396.8 135.2h0.9M421.5 112.9h0.9M401.2 124.9h0.9M415.6 104.5h0.9M448.8 144.9h0.9M429.2 102.6h0.9M445.3 160.7h0.9M398.1 155.7h0.9M442.2 126.9h0.9M428.4 107.4h0.9M446.9 119.3h0.9M396.0 157.9h0.9M436.2 107.0h0.9M449.5 133.0h0.9M453.5 159.7h0.9M445.3 152.7h0.9M456.2 159.5h0.9M453.4 154.7h0.9M438.5 117.2h0.9M401.6 125.6h0.9M413.5 106.7h0.9M445.0 145.4h0.9M447.3 121.4h0.9M444.1 116.0h0.9M403.4 122.5h0.9M446.6 126.3h0.9M444.5 151.7h0.9M448.9 132.3h0.9M446.4 137.2h0.9M397.0 172.3h0.9M399.2 127.2h0.9M393.1 129.8h0.9M399.4 160.5h0.9M396.8 126.5h0.9M449.5 120.3h0.9M444.7 159.0h0.9M448.1 142.8h0.9M429.8 113.5h0.9M392.2 175.3h0.9M435.6 111.7h0.9M443.6 116.0h0.9M449.0 129.1h0.9M444.3 121.5h0.9M442.2 125.5h0.9M442.0 115.2h0.9M449.6 130.7h0.9M404.4 120.3h0.9M415.0 111.0h0.9M446.3 125.3h0.9M442.1 113.3h0.9M406.7 110.8h0.9M399.0 146.2h0.9M448.8 166.9h0.9M397.1 159.3h0.9M451.1 173.8h0.9M398.2 171.4h0.9M444.4 175.3h0.9M392.3 127.4h0.9M418.7 111.8h0.9M406.6 113.0h0.9M398.7 139.5h0.9M393.0 169.1h0.9M444.6 155.3h0.9M446.4 129.1h0.9M450.1 136.6h0.9M438.0 116.9h0.9M420.3 112.1h0.9M416.3 110.1h0.9M396.0 163.0h0.9M420.0 103.1h0.9M438.5 106.6h0.9M444.6 127.8h0.9M448.6 136.2h0.9M446.9 133.9h0.9M398.8 162.4h0.9M445.1 123.6h0.9M415.0 113.6h0.9M396.0 154.1h0.9M398.4 171.4h0.9M393.1 149.1h0.9M446.6 126.8h0.9M428.2 102.5h0.9M445.2 151.0h0.9M397.0 123.9h0.9M445.8 148.5h0.9M396.9 174.8h0.9M398.6 135.4h0.9M391.7 166.0h0.9M395.2 146.2h0.9M399.2 126.1h0.9M449.0 156.5h0.9M428.9 111.7h0.9M443.1 125.2h0.9M442.3 123.2h0.9M434.2 108.9h0.9M406.3 114.9h0.9M444.5 135.4h0.9M445.0 158.2h0.9M439.1 113.9h0.9M396.2 144.3h0.9M430.2 114.3h0.9M441.2 114.2h0.9M445.6 139.3h0.9M445.2 141.6h0.9M405.7 117.1h0.9M409.5 113.9h0.9M450.1 152.2h0.9M438.5 117.0h0.9M395.7 158.5h0.9M435.2 117.3h0.9M446.6 142.6h0.9M397.1 132.4h0.9M449.9 176.9h0.9M396.9 130.2h0.9M404.6 117.1h0.9M445.4 118.6h0.9M393.2 174.7h0.9M397.1 143.8h0.9M392.0 166.3h0.9M420.2 107.9h0.9M397.1 119.7h0.9M399.3 127.9h0.9M446.9 157.1h0.9M443.7 122.0h0.9M447.0 140.7h0.9M408.9 104.0h0.9M398.2 132.7h0.9M450.8 126.4h0.9M413.6 110.4h0.9M425.2 112.4h0.9M435.1 115.5h0.9M446.0 156.7h0.9M395.4 143.9h0.9M448.0 154.6h0.9M451.7 121.5h0.9M396.4 155.1h0.9M396.2 124.6h0.9M402.3 114.2h0.9M392.9 138.8h0.9M444.7 168.8h0.9M396.3 157.4h0.9M398.6 141.2h0.9M398.6 169.8h0.9M394.1 130.0h0.9M430.3 109.6h0.9M434.2 117.7h0.9M434.4 114.6h0.9M450.3 163.4h0.9M411.7 99.1h0.9M407.4 115.0h0.9M430.2 109.9h0.9M396.2 130.1h0.9M447.0 141.8h0.9M438.7 120.7h0.9M445.9 171.3h0.9M402.0 114.7h0.9M434.5 117.9h0.9M400.1 119.9h0.9M398.1 135.2h0.9M399.1 132.4h0.9M455.1 171.4h0.9M444.9 132.9h0.9M422.0 112.5h0.9M444.9 153.0h0.9M398.6 143.1h0.9M396.6 148.7h0.9M449.2 176.2h0.9M445.5 122.4h0.9M393.0 128.6h0.9M445.0 160.7h0.9M428.2 114.3h0.9M398.8 161.5h0.9M398.0 172.8h0.9M448.6 157.1h0.9M445.1 128.4h0.9M444.4 164.2h0.9M397.2 166.6h0.9M399.1 136.3h0.9M402.6 120.0h0.9M420.7 112.5h0.9M398.4 136.8h0.9M446.7 152.1h0.9M417.6 109.8h0.9M445.0 155.7h0.9M446.1 128.8h0.9M451.0 128.3h0.9M449.1 148.0h0.9M446.9 175.2h0.9M396.9 156.4h0.9M404.2 109.8h0.9M420.4 112.3h0.9M447.5 146.3h0.9M443.4 121.4h0.9M404.6 114.8h0.9M394.6 139.6h0.9M440.0 112.8h0.9M442.4 122.6h0.9M399.0 128.7h0.9M449.2 116.0h0.9M424.0 108.6h0.9M450.0 124.7h0.9M440.2 120.8h0.9M445.6 131.0h0.9M451.7 155.2h0.9M449.6 148.2h0.9M397.9 173.2h0.9M441.3 113.6h0.9M449.3 149.7h0.9M445.5 139.1h0.9M393.9 142.1h0.9M439.0 119.9h0.9M391.4 164.8h0.9M451.2 138.3h0.9M420.9 111.9h0.9M445.8 141.3h0.9M444.8 133.8h0.9M445.1 158.5h0.9M409.2 109.8h0.9M444.7 165.6h0.9M394.4 152.6h0.9M410.8 113.3h0.9M396.4 128.7h0.9M397.8 158.1h0.9M394.3 165.5h0.9M396.5 161.0h0.9M416.9 111.7h0.9M425.0 110.6h0.9M398.6 164.0h0.9M442.8 126.0h0.9M424.1 114.1h0.9M429.3 115.3h0.9M446.4 154.7h0.9M452.0 136.5h0.9M449.2 147.4h0.9M392.7 129.3h0.9M451.6 148.0h0.9M397.8 174.7h0.9M393.7 148.1h0.9M408.2 109.9h0.9M405.4 117.6h0.9M398.2 146.4h0.9M393.4 143.7h0.9M445.3 145.2h0.9M446.3 148.3h0.9M391.9 153.3h0.9M447.0 176.9h0.9M455.2 167.1h0.9M441.5 115.9h0.9M447.1 167.9h0.9M445.4 138.5h0.9M445.3 168.0h0.9M424.8 104.0h0.9M448.5 114.8h0.9M445.3 118.2h0.9M396.8 170.2h0.9M395.6 143.7h0.9M397.0 168.7h0.9M445.9 147.2h0.9M448.8 129.4h0.9M398.0 134.1h0.9M397.6 132.9h0.9M419.2 113.9h0.9M445.3 116.7h0.9M416.5 109.4h0.9M447.8 144.5h0.9M449.5 167.9h0.9M396.3 165.1h0.9M445.1 118.7h0.9M444.6 174.9h0.9M446.1 150.3h0.9M445.3 138.1h0.9M393.5 156.3h0.9M397.3 151.0h0.9M440.2 117.8h0.9M448.0 169.1h0.9M420.4 111.9h0.9M449.2 117.8h0.9M416.2 112.4h0.9M446.9 143.8h0.9M449.7 130.7h0.9M401.1 120.6h0.9M423.3 111.7h0.9M396.2 158.1h0.9M419.5 98.5h0.9M414.5 106.5h0.9M449.3 129.5h0.9M403.7 119.4h0.9M398.8 144.1h0.9M443.0 127.5h0.9M397.2 170.6h0.9M451.1 136.5h0.9M446.6 129.1h0.9M437.5 118.2h0.9M429.1 112.2h0.9M448.6 147.6h0.9M404.9 118.0h0.9M394.2 155.5h0.9M422.3 105.2h0.9M399.1 167.2h0.9M393.2 126.0h0.9M396.1 129.9h0.9M397.2 143.9h0.9M454.7 156.5h0.9M439.7 120.8h0.9M452.3 175.4h0.9M398.7 138.1h0.9M422.0 112.7h0.9M398.9 117.3h0.9M395.4 131.4h0.9M416.2 112.2h0.9M445.2 125.9h0.9M404.8 113.8h0.9M455.0 127.4h0.9M454.4 156.1h0.9M442.8 128.5h0.9M447.6 118.2h0.9M398.0 118.5h0.9M444.5 172.9h0.9M415.9 113.0h0.9M452.6 147.5h0.9M454.2 166.9h0.9M433.1 117.1h0.9M439.6 114.9h0.9M434.4 114.3h0.9M403.7 121.0h0.9M396.0 173.9h0.9M394.1 169.5h0.9M444.8 133.8h0.9" stroke="#000" stroke-width="0.9" fill="none"/>
<path d="M414.2 111.3h0.8M405.0 109.7h0.8M429.7 90.6h0.8M426.4 102.3h0.8M399.0 113.7h0.8M442.7 83.3h0.8M417.7 113.9h0.8M416.8 114.0h0.8M409.5 102.5h0.8M423.2 104.7h0.8M441.9 103.3h0.8M423.4 93.6h0.8M427.3 106.6h0.8M422.2 102.4h0.8M407.5 109.2h0.8M412.6 109.8h0.8M413.2 102.4h0.8M439.8 94.3h0.8M415.1 108.5h0.8M420.9 79.9h0.8M415.8 108.6h0.8M403.2 114.4h0.8M431.3 102.1h0.8M409.2 110.2h0.8M419.7 112.7h0.8M413.7 90.8h0.8M438.4 95.5h0.8M415.7 98.5h0.8M420.5 105.3h0.8M442.5 96.7h0.8M432.7 98.9h0.8M397.4 79.4h0.8M437.8 113.5h0.8M431.6 95.8h0.8M449.4 115.9h0.8M412.2 110.4h0.8M408.1 112.2h0.8M409.3 83.8h0.8M420.4 86.5h0.8M424.6 102.4h0.8M444.7 103.4h0.8M449.3 93.9h0.8M417.0 96.1h0.8M400.6 108.6h0.8M393.5 111.0h0.8M425.1 107.8h0.8M430.4 113.0h0.8M418.0 109.0h0.8M438.4 103.2h0.8M450.3 101.4h0.8M443.7 116.7h0.8M436.5 98.3h0.8M426.0 109.8h0.8M424.7 95.6h0.8M400.1 85.9h0.8M425.2 110.1h0.8M433.2 93.2h0.8M425.7 75.8h0.8M418.9 96.6h0.8M434.6 103.6h0.8M405.3 114.6h0.8M416.5 103.3h0.8M403.6 116.3h0.8M432.9 112.6h0.8M453.0 109.1h0.8M421.4 115.8h0.8M432.1 111.7h0.8M428.8 103.7h0.8M411.3 100.3h0.8M413.6 112.5h0.8M413.4 107.0h0.8M423.5 112.8h0.8M411.0 85.6h0.8M436.2 114.9h0.8M445.0 115.9h0.8M434.4 91.8h0.8M410.8 97.3h0.8M423.6 98.5h0.8M395.9 97.4h0.8M415.9 116.0h0.8M455.4 109.1h0.8M413.4 96.4h0.8M421.6 100.6h0.8M411.5 107.3h0.8M446.5 111.2h0.8M426.2 106.8h0.8M439.2 114.3h0.8M420.4 102.6h0.8M399.9 106.5h0.8M413.3 113.6h0.8M433.3 111.4h0.8M431.0 103.5h0.8M439.1 92.9h0.8M437.0 100.1h0.8M443.0 92.0h0.8M413.5 111.2h0.8M425.3 103.3h0.8M407.5 92.7h0.8M411.6 102.2h0.8M436.4 83.3h0.8M398.4 112.7h0.8M411.5 93.0h0.8M426.8 93.6h0.8M415.8 111.5h0.8M411.0 114.6h0.8" stroke="#5a5a5a" stroke-width="0.8" fill="none"/>
<defs><clipPath id="cR"><rect x="391" y="0" width="200" height="177"/></clipPath><radialGradient id="gR" cx="0.5" cy="0.5" r="0.5"><stop offset="0" stop-color="#a8a8a8"/><stop offset="0.42" stop-color="#999"/><stop offset="0.6" stop-color="#747474"/><stop offset="0.76" stop-color="#444"/><stop offset="0.9" stop-color="#1a1a1a"/><stop offset="1" stop-color="#000"/></radialGradient><filter id="blR" x="-30%" y="-30%" width="160%" height="160%"><feGaussianBlur stdDeviation="1.2"/></filter></defs>
<g clip-path="url(#cR)"><g filter="url(#blR)"><ellipse cx="421.8" cy="136" rx="23.5" ry="23.0" fill="#000"/><rect x="398.3" y="136" width="47.0" height="46" fill="#000"/></g><ellipse cx="421.8" cy="144" rx="15.4" ry="27.1" fill="url(#gR)"/></g>
<path d="M170.5 41.6h0.8M163.1 47.6h0.8M164.3 48.2h0.8M172.7 47.7h0.8M159.2 50.2h0.8M163.9 45.0h0.8M153.2 47.8h0.8M179.5 41.7h0.8M163.7 46.3h0.8M152.5 53.7h0.8M164.4 46.1h0.8M160.4 52.1h0.8M153.7 47.7h0.8M167.0 43.5h0.8M174.3 43.6h0.8M167.5 53.8h0.8M173.6 48.5h0.8M163.1 44.1h0.8M158.2 49.0h0.8M172.7 47.4h0.8M163.8 52.8h0.8M166.4 51.8h0.8M161.9 48.6h0.8M162.3 59.5h0.8M161.1 50.1h0.8M162.6 48.6h0.8M166.1 49.4h0.8M163.9 51.9h0.8M171.4 40.6h0.8M171.4 45.2h0.8M156.7 55.1h0.8M164.9 49.7h0.8M164.9 48.0h0.8M171.7 46.8h0.8M159.8 43.3h0.8M164.8 48.4h0.8M163.8 44.1h0.8M171.5 52.5h0.8M150.8 50.5h0.8M166.7 49.9h0.8M172.4 47.2h0.8M176.7 47.7h0.8M165.7 45.6h0.8M156.0 55.3h0.8M172.9 42.8h0.8M170.8 42.6h0.8M165.5 43.3h0.8M180.8 45.9h0.8M157.3 52.5h0.8M166.3 47.1h0.8M171.3 42.9h0.8M169.1 43.7h0.8M179.1 37.6h0.8M160.0 51.6h0.8M157.9 48.1h0.8M163.8 47.6h0.8M167.1 46.7h0.8M167.0 50.1h0.8M166.8 49.6h0.8M169.2 47.2h0.8M156.7 49.3h0.8M170.2 44.3h0.8M160.7 53.0h0.8M170.1 45.8h0.8M164.7 50.7h0.8M164.2 46.0h0.8M167.7 43.3h0.8M169.6 44.0h0.8M166.5 40.5h0.8M161.4 45.5h0.8M159.8 55.6h0.8M164.0 49.8h0.8M158.0 48.7h0.8M180.0 47.1h0.8M168.0 48.0h0.8M157.5 54.3h0.8M171.9 47.3h0.8M166.4 44.1h0.8M157.9 47.2h0.8M161.9 52.3h0.8M171.3 37.4h0.8M161.3 47.0h0.8M163.0 50.9h0.8M171.7 44.9h0.8M161.8 49.4h0.8M157.2 46.2h0.8M166.9 48.0h0.8M162.5 49.2h0.8M170.9 48.7h0.8M162.9 45.7h0.8M165.8 48.3h0.8M160.4 49.0h0.8M163.8 42.2h0.8M165.5 41.9h0.8M166.2 40.9h0.8M160.5 54.5h0.8M158.2 46.1h0.8M167.4 40.7h0.8M167.8 49.4h0.8M161.5 47.7h0.8M167.8 50.3h0.8M160.4 45.4h0.8M164.9 47.6h0.8M170.1 41.2h0.8M163.0 43.1h0.8M167.5 42.7h0.8M171.2 46.7h0.8M161.6 41.8h0.8M168.8 48.7h0.8M156.3 50.1h0.8M157.2 43.6h0.8M158.1 53.0h0.8M151.9 55.1h0.8M157.5 50.3h0.8M166.3 44.1h0.8M152.8 43.8h0.8M170.1 39.5h0.8M158.0 46.1h0.8M176.6 44.0h0.8M157.7 46.1h0.8M164.4 46.0h0.8M168.0 42.3h0.8M167.9 44.9h0.8M156.8 51.7h0.8M172.1 43.6h0.8M166.0 56.1h0.8M158.7 44.7h0.8M164.8 44.7h0.8M165.6 43.6h0.8M174.2 41.7h0.8M166.8 42.1h0.8M163.3 45.0h0.8M164.1 51.4h0.8M168.8 38.7h0.8M162.5 53.0h0.8M160.6 50.1h0.8M164.7 48.3h0.8M160.6 51.2h0.8M166.6 44.7h0.8M166.6 50.2h0.8M171.0 49.2h0.8M179.8 37.0h0.8M160.6 45.8h0.8M167.0 46.8h0.8M156.7 55.9h0.8M164.2 44.0h0.8M162.3 39.7h0.8M161.8 48.8h0.8M169.3 45.3h0.8M159.0 46.8h0.8M169.5 50.8h0.8M162.1 44.1h0.8M158.6 50.3h0.8M150.3 50.2h0.8M162.6 51.5h0.8M166.4 49.4h0.8M169.4 39.9h0.8M166.1 42.2h0.8M180.9 42.4h0.8M164.9 47.8h0.8M170.0 41.3h0.8M159.4 46.0h0.8M167.8 47.9h0.8M166.0 50.5h0.8M159.7 54.6h0.8M174.2 48.0h0.8M154.5 50.6h0.8M173.0 42.4h0.8M154.9 52.7h0.8M162.4 44.0h0.8M163.5 43.5h0.8M170.7 37.2h0.8M171.8 48.8h0.8M158.7 52.2h0.8M155.3 57.7h0.8M170.4 50.3h0.8M164.9 51.3h0.8M173.7 44.2h0.8M170.9 48.4h0.8M158.4 57.7h0.8M162.9 45.7h0.8M171.7 47.7h0.8M161.7 45.7h0.8M157.9 54.4h0.8M169.8 41.4h0.8M165.1 45.3h0.8M167.7 46.0h0.8M161.8 47.8h0.8M159.1 50.4h0.8M163.5 49.2h0.8M158.8 47.1h0.8M159.8 47.1h0.8M180.3 38.9h0.8M159.0 41.6h0.8M168.1 40.6h0.8M170.7 47.3h0.8M161.4 50.8h0.8M173.6 37.5h0.8M155.2 51.3h0.8M161.8 49.4h0.8M162.0 47.0h0.8M166.5 39.1h0.8M165.1 44.4h0.8M161.4 45.9h0.8M156.6 53.6h0.8M166.2 51.0h0.8M161.0 43.5h0.8M159.9 48.8h0.8M156.7 45.4h0.8M182.1 40.0h0.8M163.6 42.3h0.8M152.6 53.3h0.8M156.6 47.7h0.8M170.4 36.2h0.8M177.9 47.9h0.8M164.3 47.1h0.8M170.2 47.0h0.8M160.8 44.4h0.8M166.8 45.8h0.8M153.9 50.8h0.8M170.2 46.7h0.8M164.7 47.7h0.8M165.2 48.1h0.8M166.1 38.8h0.8M170.0 40.9h0.8M165.4 51.3h0.8M157.4 38.7h0.8M168.2 39.3h0.8M165.2 45.4h0.8M165.6 42.4h0.8M171.2 46.3h0.8M163.2 49.6h0.8M168.3 50.7h0.8M171.9 47.4h0.8M159.4 44.4h0.8M167.3 45.3h0.8M159.9 53.1h0.8M167.3 45.6h0.8M167.8 48.5h0.8M168.8 41.6h0.8M160.0 49.1h0.8M154.1 58.0h0.8M157.1 49.6h0.8M166.6 48.7h0.8M163.7 44.5h0.8M170.2 56.2h0.8M171.8 39.3h0.8M166.2 45.6h0.8M164.3 46.2h0.8M178.4 37.8h0.8M165.2 49.7h0.8M171.0 42.1h0.8M175.7 43.5h0.8M158.4 44.3h0.8M168.7 48.8h0.8M157.7 52.8h0.8M167.1 45.4h0.8M167.1 43.3h0.8M155.6 60.3h0.8M167.5 45.2h0.8M163.8 45.5h0.8M169.0 42.6h0.8M170.0 52.7h0.8M161.1 46.5h0.8M166.7 42.2h0.8M161.2 40.3h0.8M178.4 39.9h0.8M167.6 45.4h0.8M176.4 50.0h0.8M162.2 48.0h0.8M165.0 39.7h0.8M160.3 51.0h0.8M166.6 51.1h0.8M163.7 45.3h0.8M166.7 52.3h0.8M155.7 49.4h0.8M167.3 40.8h0.8M145.7 54.1h0.8M172.5 47.6h0.8M179.0 47.8h0.8M159.1 45.8h0.8M178.0 41.8h0.8M170.1 40.9h0.8M170.0 47.8h0.8M168.8 46.9h0.8M179.1 47.0h0.8M169.2 41.9h0.8M154.9 49.8h0.8M174.5 38.0h0.8M177.1 50.4h0.8M159.7 51.4h0.8M180.1 39.3h0.8M161.4 45.4h0.8M167.4 41.2h0.8M161.5 43.8h0.8M167.3 41.5h0.8M168.6 54.8h0.8M176.6 42.6h0.8M159.4 53.5h0.8M169.8 48.6h0.8M169.9 57.5h0.8M165.5 51.9h0.8M168.3 46.4h0.8M172.0 35.2h0.8M172.3 43.1h0.8M162.9 60.9h0.8M164.0 45.1h0.8M161.6 54.5h0.8M163.9 48.6h0.8M169.2 42.8h0.8M183.1 41.7h0.8M164.1 44.4h0.8M158.7 47.2h0.8M176.9 42.0h0.8M163.6 46.9h0.8M177.0 37.1h0.8M161.3 46.2h0.8M156.8 45.9h0.8M172.8 48.4h0.8M171.0 48.1h0.8M162.2 47.2h0.8M175.9 52.3h0.8M172.2 41.3h0.8M167.0 36.2h0.8M171.2 48.7h0.8M161.0 46.3h0.8M173.2 38.0h0.8M160.9 46.4h0.8M167.9 45.5h0.8M170.3 46.0h0.8M165.0 35.8h0.8M159.9 46.7h0.8M172.4 49.5h0.8M161.4 44.6h0.8M153.8 46.7h0.8M163.9 50.5h0.8M157.5 48.1h0.8M163.3 46.2h0.8M160.5 48.4h0.8M157.8 48.9h0.8M175.0 50.3h0.8M168.9 47.5h0.8M176.0 44.9h0.8M168.8 41.4h0.8M162.5 40.8h0.8M162.6 44.8h0.8M172.4 42.2h0.8M165.1 45.8h0.8M170.4 48.3h0.8M165.3 52.7h0.8M179.4 37.3h0.8M161.2 51.9h0.8M170.5 44.3h0.8M154.9 48.5h0.8M166.6 49.6h0.8M175.2 43.5h0.8M168.0 45.4h0.8M170.7 41.2h0.8M162.6 52.5h0.8M154.4 56.4h0.8M168.9 40.5h0.8M159.1 48.6h0.8M171.7 49.5h0.8M165.4 54.1h0.8M168.0 46.0h0.8M163.7 53.3h0.8M168.1 43.3h0.8M165.3 49.9h0.8M160.3 53.9h0.8M164.2 45.7h0.8M171.9 41.1h0.8M164.9 54.5h0.8M171.0 36.2h0.8M170.7 49.7h0.8M157.2 51.4h0.8M167.2 47.9h0.8M156.3 50.7h0.8M163.9 53.4h0.8M164.1 49.0h0.8M167.6 47.0h0.8M163.7 52.3h0.8M159.6 52.0h0.8M169.0 48.5h0.8M157.3 51.4h0.8M166.2 51.0h0.8M173.9 43.3h0.8M174.1 49.3h0.8M155.4 48.9h0.8M170.6 47.0h0.8M169.2 46.8h0.8M171.1 43.2h0.8M163.4 53.7h0.8M166.6 44.9h0.8M174.0 51.4h0.8M165.6 44.6h0.8M166.5 42.7h0.8M161.4 50.4h0.8M166.8 47.9h0.8M168.8 50.1h0.8M167.2 43.2h0.8M173.1 38.9h0.8M174.7 49.4h0.8M168.0 44.2h0.8M149.5 54.8h0.8M168.9 45.9h0.8M165.2 53.1h0.8M171.6 44.5h0.8M173.2 39.4h0.8M173.2 42.3h0.8M172.1 42.0h0.8M166.6 50.5h0.8M170.0 43.3h0.8M161.1 43.7h0.8M162.2 53.6h0.8M172.1 45.9h0.8M161.8 46.4h0.8M176.8 46.2h0.8M167.6 37.4h0.8M167.7 42.4h0.8M169.9 41.8h0.8M160.8 51.0h0.8M161.2 51.8h0.8M166.5 45.7h0.8M166.2 50.0h0.8M169.4 47.2h0.8M165.6 51.7h0.8M166.7 46.7h0.8M171.6 44.4h0.8M167.1 45.4h0.8M166.5 46.7h0.8M157.0 63.7h0.8M167.9 56.1h0.8M173.6 65.5h0.8M144.4 50.2h0.8M172.8 59.7h0.8M146.6 64.8h0.8M167.9 60.6h0.8M159.2 51.3h0.8M153.6 56.0h0.8M140.7 64.2h0.8M145.8 60.6h0.8M141.8 55.5h0.8M149.0 60.3h0.8M170.8 63.4h0.8M155.6 65.8h0.8M140.2 54.9h0.8M152.9 56.2h0.8M151.7 59.2h0.8M174.0 58.9h0.8M144.5 57.3h0.8M173.4 65.8h0.8M146.0 63.7h0.8M143.9 59.9h0.8M141.4 59.9h0.8M171.1 65.7h0.8M148.5 52.5h0.8M159.1 63.9h0.8M145.1 52.2h0.8M144.6 53.8h0.8M171.3 54.3h0.8M149.9 55.2h0.8M158.5 61.9h0.8M151.4 54.6h0.8M173.7 51.2h0.8M141.5 51.1h0.8M159.2 62.2h0.8M169.9 50.8h0.8M174.5 56.8h0.8M146.3 64.5h0.8M168.0 65.0h0.8" stroke="#000" stroke-width="0.8" fill="none"/>
<ellipse cx="164.9" cy="49" rx="20.8" ry="11.6" transform="rotate(-30 164.9 49)" fill="none" stroke="#111" stroke-width="1"/>
<ellipse cx="418.4" cy="48.9" rx="21.6" ry="11.8" transform="rotate(-32 418.4 48.9)" fill="none" stroke="#111" stroke-width="1"/>
<rect x="80.3" y="13.0" width="174.10000000000002" height="164.0" fill="none" stroke="#6a6a6a" stroke-width="1.4"/>
<line x1="254.4" y1="13.0" x2="254.4" y2="177.0" stroke="#111" stroke-width="1.3"/>
<path d="M75.8 177.0H80.3M80.3 177.0V181.5M77.9 164.7H80.3M93.4 177.0V179.4M77.9 157.4H80.3M101.1 177.0V179.4M77.9 152.3H80.3M106.5 177.0V179.4M77.9 148.3H80.3M110.7 177.0V179.4M77.9 145.1H80.3M114.2 177.0V179.4M77.9 142.4H80.3M117.1 177.0V179.4M77.9 140.0H80.3M119.6 177.0V179.4M77.9 137.9H80.3M121.8 177.0V179.4M75.8 136.0H80.3M123.8 177.0V181.5M77.9 123.7H80.3M136.9 177.0V179.4M77.9 116.4H80.3M144.6 177.0V179.4M77.9 111.3H80.3M150.0 177.0V179.4M77.9 107.3H80.3M154.2 177.0V179.4M77.9 104.1H80.3M157.7 177.0V179.4M77.9 101.4H80.3M160.6 177.0V179.4M77.9 99.0H80.3M163.1 177.0V179.4M77.9 96.9H80.3M165.4 177.0V179.4M75.8 95.0H80.3M167.4 177.0V181.5M77.9 82.7H80.3M180.5 177.0V179.4M77.9 75.4H80.3M188.1 177.0V179.4M77.9 70.3H80.3M193.6 177.0V179.4M77.9 66.3H80.3M197.8 177.0V179.4M77.9 63.1H80.3M201.2 177.0V179.4M77.9 60.4H80.3M204.1 177.0V179.4M77.9 58.0H80.3M206.7 177.0V179.4M77.9 55.9H80.3M208.9 177.0V179.4M75.8 54.0H80.3M210.9 177.0V181.5M77.9 41.7H80.3M224.0 177.0V179.4M77.9 34.4H80.3M231.6 177.0V179.4M77.9 29.3H80.3M237.1 177.0V179.4M77.9 25.3H80.3M241.3 177.0V179.4M77.9 22.1H80.3M244.7 177.0V179.4M77.9 19.4H80.3M247.7 177.0V179.4M77.9 17.0H80.3M250.2 177.0V179.4M77.9 14.9H80.3M252.4 177.0V179.4M75.8 13.0H80.3M254.4 177.0V181.5" stroke="#555" stroke-width="1" fill="none"/>
<text x="66.3" y="176.7" font-family="Liberation Sans, sans-serif" font-weight="bold" font-size="9" fill="#111" stroke="#111" stroke-width="0.25" text-anchor="end">10</text>
<text x="66.89999999999999" y="169.5" font-family="Liberation Sans, sans-serif" font-weight="bold" font-size="9" fill="#111" stroke="#111" stroke-width="0.25">0</text>
<text x="66.3" y="139.2" font-family="Liberation Sans, sans-serif" font-weight="bold" font-size="9" fill="#111" stroke="#111" stroke-width="0.25" text-anchor="end">10</text>
<text x="66.89999999999999" y="132.0" font-family="Liberation Sans, sans-serif" font-weight="bold" font-size="9" fill="#111" stroke="#111" stroke-width="0.25">1</text>
<text x="66.3" y="98.2" font-family="Liberation Sans, sans-serif" font-weight="bold" font-size="9" fill="#111" stroke="#111" stroke-width="0.25" text-anchor="end">10</text>
<text x="66.89999999999999" y="91.0" font-family="Liberation Sans, sans-serif" font-weight="bold" font-size="9" fill="#111" stroke="#111" stroke-width="0.25">2</text>
<text x="66.3" y="57.2" font-family="Liberation Sans, sans-serif" font-weight="bold" font-size="9" fill="#111" stroke="#111" stroke-width="0.25" text-anchor="end">10</text>
<text x="66.89999999999999" y="50.0" font-family="Liberation Sans, sans-serif" font-weight="bold" font-size="9" fill="#111" stroke="#111" stroke-width="0.25">3</text>
<text x="66.3" y="29.7" font-family="Liberation Sans, sans-serif" font-weight="bold" font-size="9" fill="#111" stroke="#111" stroke-width="0.25" text-anchor="end">10</text>
<text x="66.89999999999999" y="22.5" font-family="Liberation Sans, sans-serif" font-weight="bold" font-size="9" fill="#111" stroke="#111" stroke-width="0.25">4</text>
<text x="93.6" y="194.8" font-family="Liberation Sans, sans-serif" font-weight="bold" font-size="9" fill="#111" stroke="#111" stroke-width="0.25" text-anchor="end">10</text>
<text x="94.3" y="187.8" font-family="Liberation Sans, sans-serif" font-weight="bold" font-size="9" fill="#111" stroke="#111" stroke-width="0.25">0</text>
<text x="129.1" y="194.8" font-family="Liberation Sans, sans-serif" font-weight="bold" font-size="9" fill="#111" stroke="#111" stroke-width="0.25" text-anchor="end">10</text>
<text x="129.8" y="187.8" font-family="Liberation Sans, sans-serif" font-weight="bold" font-size="9" fill="#111" stroke="#111" stroke-width="0.25">1</text>
<text x="170.5" y="194.8" font-family="Liberation Sans, sans-serif" font-weight="bold" font-size="9" fill="#111" stroke="#111" stroke-width="0.25" text-anchor="end">10</text>
<text x="171.2" y="187.8" font-family="Liberation Sans, sans-serif" font-weight="bold" font-size="9" fill="#111" stroke="#111" stroke-width="0.25">2</text>
<text x="210.3" y="194.8" font-family="Liberation Sans, sans-serif" font-weight="bold" font-size="9" fill="#111" stroke="#111" stroke-width="0.25" text-anchor="end">10</text>
<text x="211.0" y="187.8" font-family="Liberation Sans, sans-serif" font-weight="bold" font-size="9" fill="#111" stroke="#111" stroke-width="0.25">3</text>
<text x="251.1" y="194.8" font-family="Liberation Sans, sans-serif" font-weight="bold" font-size="9" fill="#111" stroke="#111" stroke-width="0.25" text-anchor="end">10</text>
<text x="251.8" y="187.8" font-family="Liberation Sans, sans-serif" font-weight="bold" font-size="9" fill="#111" stroke="#111" stroke-width="0.25">4</text>
<rect x="331.8" y="13.4" width="178.0" height="163.6" fill="none" stroke="#6a6a6a" stroke-width="1.4"/>
<line x1="509.8" y1="13.4" x2="509.8" y2="177.0" stroke="#111" stroke-width="1.3"/>
<path d="M327.3 177.0H331.8M331.8 177.0V181.5M329.4 164.7H331.8M345.2 177.0V179.4M329.4 157.5H331.8M353.0 177.0V179.4M329.4 152.4H331.8M358.6 177.0V179.4M329.4 148.4H331.8M362.9 177.0V179.4M329.4 145.2H331.8M366.4 177.0V179.4M329.4 142.4H331.8M369.4 177.0V179.4M329.4 140.1H331.8M372.0 177.0V179.4M329.4 138.0H331.8M374.3 177.0V179.4M327.3 136.1H331.8M376.3 177.0V181.5M329.4 123.8H331.8M389.7 177.0V179.4M329.4 116.6H331.8M397.5 177.0V179.4M329.4 111.5H331.8M403.1 177.0V179.4M329.4 107.5H331.8M407.4 177.0V179.4M329.4 104.3H331.8M410.9 177.0V179.4M329.4 101.5H331.8M413.9 177.0V179.4M329.4 99.2H331.8M416.5 177.0V179.4M329.4 97.1H331.8M418.8 177.0V179.4M327.3 95.2H331.8M420.8 177.0V181.5M329.4 82.9H331.8M434.2 177.0V179.4M329.4 75.7H331.8M442.0 177.0V179.4M329.4 70.6H331.8M447.6 177.0V179.4M329.4 66.6H331.8M451.9 177.0V179.4M329.4 63.4H331.8M455.4 177.0V179.4M329.4 60.6H331.8M458.4 177.0V179.4M329.4 58.3H331.8M461.0 177.0V179.4M329.4 56.2H331.8M463.3 177.0V179.4M327.3 54.3H331.8M465.3 177.0V181.5M329.4 42.0H331.8M478.7 177.0V179.4M329.4 34.8H331.8M486.5 177.0V179.4M329.4 29.7H331.8M492.1 177.0V179.4M329.4 25.7H331.8M496.4 177.0V179.4M329.4 22.5H331.8M499.9 177.0V179.4M329.4 19.7H331.8M502.9 177.0V179.4M329.4 17.4H331.8M505.5 177.0V179.4M329.4 15.3H331.8M507.8 177.0V179.4M327.3 13.4H331.8M509.8 177.0V181.5" stroke="#555" stroke-width="1" fill="none"/>
<text x="317.8" y="176.7" font-family="Liberation Sans, sans-serif" font-weight="bold" font-size="9" fill="#111" stroke="#111" stroke-width="0.25" text-anchor="end">10</text>
<text x="318.40000000000003" y="169.5" font-family="Liberation Sans, sans-serif" font-weight="bold" font-size="9" fill="#111" stroke="#111" stroke-width="0.25">0</text>
<text x="317.8" y="139.3" font-family="Liberation Sans, sans-serif" font-weight="bold" font-size="9" fill="#111" stroke="#111" stroke-width="0.25" text-anchor="end">10</text>
<text x="318.40000000000003" y="132.1" font-family="Liberation Sans, sans-serif" font-weight="bold" font-size="9" fill="#111" stroke="#111" stroke-width="0.25">1</text>
<text x="317.8" y="98.4" font-family="Liberation Sans, sans-serif" font-weight="bold" font-size="9" fill="#111" stroke="#111" stroke-width="0.25" text-anchor="end">10</text>
<text x="318.40000000000003" y="91.2" font-family="Liberation Sans, sans-serif" font-weight="bold" font-size="9" fill="#111" stroke="#111" stroke-width="0.25">2</text>
<text x="317.8" y="57.5" font-family="Liberation Sans, sans-serif" font-weight="bold" font-size="9" fill="#111" stroke="#111" stroke-width="0.25" text-anchor="end">10</text>
<text x="318.40000000000003" y="50.3" font-family="Liberation Sans, sans-serif" font-weight="bold" font-size="9" fill="#111" stroke="#111" stroke-width="0.25">3</text>
<text x="317.8" y="30.1" font-family="Liberation Sans, sans-serif" font-weight="bold" font-size="9" fill="#111" stroke="#111" stroke-width="0.25" text-anchor="end">10</text>
<text x="318.40000000000003" y="22.9" font-family="Liberation Sans, sans-serif" font-weight="bold" font-size="9" fill="#111" stroke="#111" stroke-width="0.25">4</text>
<text x="345.5" y="194.8" font-family="Liberation Sans, sans-serif" font-weight="bold" font-size="9" fill="#111" stroke="#111" stroke-width="0.25" text-anchor="end">10</text>
<text x="346.2" y="187.8" font-family="Liberation Sans, sans-serif" font-weight="bold" font-size="9" fill="#111" stroke="#111" stroke-width="0.25">0</text>
<text x="382.6" y="194.8" font-family="Liberation Sans, sans-serif" font-weight="bold" font-size="9" fill="#111" stroke="#111" stroke-width="0.25" text-anchor="end">10</text>
<text x="383.3" y="187.8" font-family="Liberation Sans, sans-serif" font-weight="bold" font-size="9" fill="#111" stroke="#111" stroke-width="0.25">1</text>
<text x="424.3" y="194.8" font-family="Liberation Sans, sans-serif" font-weight="bold" font-size="9" fill="#111" stroke="#111" stroke-width="0.25" text-anchor="end">10</text>
<text x="425.0" y="187.8" font-family="Liberation Sans, sans-serif" font-weight="bold" font-size="9" fill="#111" stroke="#111" stroke-width="0.25">2</text>
<text x="465.5" y="194.8" font-family="Liberation Sans, sans-serif" font-weight="bold" font-size="9" fill="#111" stroke="#111" stroke-width="0.25" text-anchor="end">10</text>
<text x="466.2" y="187.8" font-family="Liberation Sans, sans-serif" font-weight="bold" font-size="9" fill="#111" stroke="#111" stroke-width="0.25">3</text>
<text x="507.8" y="194.8" font-family="Liberation Sans, sans-serif" font-weight="bold" font-size="9" fill="#111" stroke="#111" stroke-width="0.25" text-anchor="end">10</text>
<text x="508.5" y="187.8" font-family="Liberation Sans, sans-serif" font-weight="bold" font-size="9" fill="#111" stroke="#111" stroke-width="0.25">4</text>
<text x="194" y="37.5" font-family="Liberation Sans, sans-serif" font-weight="bold" font-size="9" fill="#111">iNKT</text>
<text x="194" y="50" font-family="Liberation Sans, sans-serif" font-weight="bold" font-size="9" fill="#111">0,167%</text>
<text x="448" y="37.5" font-family="Liberation Sans, sans-serif" font-weight="bold" font-size="9" fill="#111">iNKT</text>
<text x="448" y="50" font-family="Liberation Sans, sans-serif" font-weight="bold" font-size="9" fill="#111">0,000%</text>
<text x="1.8" y="16.4" font-family="Liberation Sans, sans-serif" font-weight="bold" font-size="16.5" fill="#000">A</text>
<text transform="translate(37 151) rotate(-90)" font-family="Liberation Sans, sans-serif" font-weight="bold" font-size="18" fill="#000">CD1d tetramer</text>
<text transform="translate(288.5 150) rotate(-90)" font-family="Liberation Sans, sans-serif" font-weight="bold" font-size="17.4" fill="#000">empty tetramer</text>
<line x1="73" y1="214.2" x2="232.5" y2="214.2" stroke="#000" stroke-width="1.5"/>
<line x1="334.5" y1="214.2" x2="493" y2="214.2" stroke="#000" stroke-width="1.5"/>
<text x="283.5" y="218.8" font-family="Liberation Sans, sans-serif" font-weight="bold" font-size="16.5" text-anchor="middle" fill="#000">CD3</text>
<text x="2.2" y="252.8" font-family="Liberation Sans, sans-serif" font-weight="bold" font-size="16.3" fill="#000">B</text>
<path d="M105.2 268.75V606.5" stroke="#b8b8b8" stroke-width="1.2" fill="none"/>
<path d="M100.5 268.75H105.2M100.5 353.12H105.2M100.5 437.50H105.2M100.5 521.88H105.2M100.5 606.25H105.2" stroke="#b8b8b8" stroke-width="1.2" fill="none"/>
<text x="90" y="274.9" font-family="Liberation Sans, sans-serif" font-size="17" text-anchor="end" fill="#111">100</text>
<text x="90" y="359.2" font-family="Liberation Sans, sans-serif" font-size="17" text-anchor="end" fill="#111">10</text>
<text x="90" y="443.6" font-family="Liberation Sans, sans-serif" font-size="17" text-anchor="end" fill="#111">1</text>
<text x="90" y="528.0" font-family="Liberation Sans, sans-serif" font-size="17" text-anchor="end" fill="#111">0.1</text>
<text x="90" y="612.4" font-family="Liberation Sans, sans-serif" font-size="17" text-anchor="end" fill="#111">0.01</text>
<path d="M103.8 299.2H444" stroke="#000" stroke-width="1.6" stroke-dasharray="4.2 3.445" fill="none"/>
<path d="M153.5 299.3V307.3M236.8 299.3V307.3M326.8 299.3V307.3M417.8 299.3V307.3" stroke="#000" stroke-width="1.6" fill="none"/>
<text x="156.3" y="290" font-family="Liberation Sans, sans-serif" font-weight="bold" font-size="16" text-anchor="middle" fill="#000">15</text>
<text x="239.2" y="290" font-family="Liberation Sans, sans-serif" font-weight="bold" font-size="16" text-anchor="middle" fill="#000">30</text>
<text x="327" y="290" font-family="Liberation Sans, sans-serif" font-weight="bold" font-size="16" text-anchor="middle" fill="#000">60</text>
<text x="415.5" y="290" font-family="Liberation Sans, sans-serif" font-weight="bold" font-size="16" text-anchor="middle" fill="#000">90</text>
<text x="231" y="253.5" font-family="Liberation Sans, sans-serif" font-weight="bold" font-size="17" fill="#000">Days post-HSCT</text>
<text x="151.5" y="635.3" font-family="Liberation Sans, sans-serif" font-size="17" text-anchor="middle" fill="#111">n=56</text>
<text x="241.8" y="635.3" font-family="Liberation Sans, sans-serif" font-size="17" text-anchor="middle" fill="#111">n=67</text>
<text x="324.4" y="635.3" font-family="Liberation Sans, sans-serif" font-size="17" text-anchor="middle" fill="#111">n=66</text>
<text x="415" y="635.3" font-family="Liberation Sans, sans-serif" font-size="17" text-anchor="middle" fill="#111">n=60</text>
<text transform="translate(44.6 523.4) rotate(-90)" font-family="Liberation Sans, sans-serif" font-weight="bold" font-size="17.5" fill="#000">iNKT/10<tspan dy="-5.8" font-size="11.2">3</tspan><tspan dy="5.8"> T cell ratio</tspan></text>
<path d="M149.5 458.2L237.7 454.6M149.5 458.2L237.7 454.6M149.5 458.2L237.7 457.0M149.5 463.5L237.7 468.0M149.5 463.5L237.7 457.0M149.5 463.5L237.7 473.6M149.5 467.5L237.7 489.4M149.5 467.5L237.7 508.8M149.5 473.6L237.7 489.4M149.5 473.6L237.7 473.6M149.5 473.6L237.7 463.0M149.5 481.3L237.7 468.0M149.5 481.3L237.7 483.0M149.5 481.3L237.7 495.0M149.5 488.2L237.7 478.0M149.5 488.2L237.7 478.0M149.5 495.5L237.7 528.6M149.5 495.5L237.7 463.0M149.5 495.5L237.7 521.3M149.5 501.5L237.7 528.6M149.5 501.5L237.7 500.3M149.5 508.4L237.7 500.3M149.5 508.4L237.7 508.8M149.5 508.4L237.7 540.4M149.5 518.5L237.7 534.7M149.5 518.5L237.7 483.0M149.5 518.5L237.7 534.7M149.5 523.0L237.7 554.5M149.5 523.0L237.7 564.3M149.5 529.4L237.7 554.5M149.5 529.4L237.7 540.4M149.5 529.4L237.7 521.3M149.5 540.0L237.7 546.0M149.5 540.0L237.7 546.0M149.5 579.2L237.7 468.0M149.5 581.0L237.7 495.0M149.5 546.8L237.7 564.3M149.5 564.7L237.7 554.5M237.7 454.6L325.8 463.4M237.7 454.6L325.8 486.4M237.7 457.0L325.8 486.4M237.7 457.0L325.8 456.0M237.7 463.0L325.8 469.4M237.7 463.0L325.8 463.4M237.7 468.0L325.8 476.0M237.7 468.0L325.8 469.4M237.7 473.6L325.8 496.0M237.7 473.6L325.8 456.0M237.7 478.0L325.8 529.1M237.7 478.0L325.8 476.0M237.7 483.0L325.8 501.8M237.7 483.0L325.8 492.0M237.7 489.4L325.8 492.0M237.7 489.4L325.8 514.0M237.7 495.0L325.8 529.1M237.7 495.0L325.8 501.8M237.7 500.3L325.8 508.3M237.7 500.3L325.8 533.2M237.7 508.8L325.8 496.0M237.7 508.8L325.8 481.6M237.7 521.3L325.8 536.0M237.7 521.3L325.8 514.0M237.7 528.6L325.8 481.6M237.7 528.6L325.8 524.1M237.7 534.7L325.8 533.2M237.7 534.7L325.8 524.1M237.7 540.4L325.8 508.3M237.7 540.4L325.8 536.0M237.7 546.0L325.8 546.4M237.7 546.0L325.8 546.4M237.7 564.3L325.8 533.2M237.7 554.5L325.8 605.7M237.7 546.0L325.8 546.4M237.7 463.0L325.8 605.7M237.7 470.0L325.8 578.3M325.8 456.0L414.1 462.1M325.8 456.0L414.1 473.9M325.8 463.4L414.1 465.4M325.8 463.4L414.1 473.9M325.8 469.4L414.1 489.7M325.8 469.4L414.1 462.1M325.8 476.0L414.1 465.4M325.8 476.0L414.1 462.1M325.8 481.6L414.1 465.4M325.8 481.6L414.1 489.7M325.8 486.4L414.1 482.4M325.8 486.4L414.1 482.4M325.8 492.0L414.1 462.1M325.8 492.0L414.1 482.4M325.8 496.0L414.1 473.9M325.8 496.0L414.1 546.4M325.8 501.8L414.1 533.7M325.8 501.8L414.1 533.7M325.8 508.3L414.1 489.7M325.8 508.3L414.1 533.7M325.8 514.0L414.1 540.0M325.8 514.0L414.1 495.3M325.8 524.1L414.1 495.3M325.8 524.1L414.1 514.8M325.8 529.1L414.1 495.3M325.8 529.1L414.1 514.8M325.8 533.2L414.1 540.0M325.8 533.2L414.1 514.8M325.8 536.0L414.1 546.4M325.8 536.0L414.1 495.3M325.8 546.4L414.1 546.4M325.8 546.4L414.1 540.0M325.8 605.7L414.1 605.7M325.8 578.3L414.1 580.6M325.8 605.7L414.1 540.0M325.8 456.0L414.1 605.7M325.8 463.4L414.1 565.6" stroke="#858585" stroke-width="1.25" fill="none"/>
<g fill="#c2c2c2" stroke="#828282" stroke-width="1.15"><circle cx="149.5" cy="458.2" r="4.2"/><circle cx="149.5" cy="463.5" r="4.2"/><circle cx="149.5" cy="467.5" r="4.2"/><circle cx="149.5" cy="473.6" r="4.2"/><circle cx="149.5" cy="481.3" r="4.2"/><circle cx="149.5" cy="488.2" r="4.2"/><circle cx="149.5" cy="495.5" r="4.2"/><circle cx="149.5" cy="501.5" r="4.2"/><circle cx="149.5" cy="508.4" r="4.2"/><circle cx="149.5" cy="518.5" r="4.2"/><circle cx="149.5" cy="523" r="4.2"/><circle cx="149.5" cy="529.4" r="4.2"/><circle cx="149.5" cy="540" r="4.2"/><circle cx="149.5" cy="546.8" r="4.2"/><circle cx="149.5" cy="564.7" r="4.2"/><circle cx="149.5" cy="579.2" r="4.2"/><circle cx="149.5" cy="581" r="4.2"/><circle cx="237.7" cy="454.6" r="4.2" fill="#b0b0b0"/><circle cx="237.7" cy="457" r="4.2"/><circle cx="237.7" cy="463" r="4.2"/><circle cx="237.7" cy="468" r="4.2"/><circle cx="237.7" cy="473.6" r="4.2"/><circle cx="237.7" cy="478" r="4.2"/><circle cx="237.7" cy="483" r="4.2"/><circle cx="237.7" cy="489.4" r="4.2"/><circle cx="237.7" cy="495" r="4.2"/><circle cx="237.7" cy="500.3" r="4.2"/><circle cx="237.7" cy="508.8" r="4.2"/><circle cx="237.7" cy="521.3" r="4.2"/><circle cx="237.7" cy="528.6" r="4.2"/><circle cx="237.7" cy="534.7" r="4.2"/><circle cx="237.7" cy="540.4" r="4.2"/><circle cx="237.7" cy="546" r="4.2"/><circle cx="237.7" cy="554.5" r="4.2"/><circle cx="237.7" cy="564.3" r="4.2"/><circle cx="325.8" cy="456" r="4.2" fill="#9c9c9c"/><circle cx="325.8" cy="463.4" r="4.2"/><circle cx="325.8" cy="469.4" r="4.2"/><circle cx="325.8" cy="476" r="4.2"/><circle cx="325.8" cy="481.6" r="4.2"/><circle cx="325.8" cy="486.4" r="4.2"/><circle cx="325.8" cy="492" r="4.2"/><circle cx="325.8" cy="496" r="4.2"/><circle cx="325.8" cy="501.8" r="4.2"/><circle cx="325.8" cy="508.3" r="4.2"/><circle cx="325.8" cy="514" r="4.2"/><circle cx="325.8" cy="524.1" r="4.2"/><circle cx="325.8" cy="529.1" r="4.2"/><circle cx="325.8" cy="533.2" r="4.2"/><circle cx="325.8" cy="536" r="4.2"/><circle cx="325.8" cy="546.4" r="4.2"/><circle cx="325.8" cy="578.3" r="4.2"/><circle cx="325.8" cy="605.7" r="4.2"/><circle cx="414.1" cy="462.1" r="4.2"/><circle cx="414.1" cy="465.4" r="4.2"/><circle cx="414.1" cy="473.9" r="4.2"/><circle cx="414.1" cy="482.4" r="4.2"/><circle cx="414.1" cy="489.7" r="4.2"/><circle cx="414.1" cy="495.3" r="4.2"/><circle cx="414.1" cy="514.8" r="4.2"/><circle cx="414.1" cy="533.7" r="4.2"/><circle cx="414.1" cy="540" r="4.2"/><circle cx="414.1" cy="546.4" r="4.2"/><circle cx="414.1" cy="565.6" r="4.2" fill="#8a8a8a"/><circle cx="414.1" cy="580.6" r="4.2"/><circle cx="414.1" cy="605.7" r="4.2"/></g>
<path d="M149.5 373.4L237.7 377.5M149.5 373.4L237.7 398.0M149.5 373.4L237.7 402.0M149.5 378.5L237.7 386.0M149.5 378.5L237.7 390.0M149.5 382.0L237.7 386.0M149.5 382.0L237.7 377.5M149.5 382.0L237.7 382.0M149.5 386.0L237.7 382.0M149.5 386.0L237.7 410.0M149.5 390.0L237.7 398.0M149.5 390.0L237.7 406.0M149.5 394.0L237.7 394.0M149.5 394.0L237.7 386.0M149.5 394.0L237.7 390.0M149.5 402.8L237.7 398.0M149.5 402.8L237.7 418.0M149.5 409.7L237.7 414.0M149.5 409.7L237.7 406.0M149.5 424.3L237.7 414.0M149.5 424.3L237.7 402.0M149.5 424.3L237.7 426.0M149.5 428.7L237.7 406.0M149.5 428.7L237.7 422.0M149.5 442.0L237.7 445.0M149.5 442.0L237.7 394.0M149.5 446.0L237.7 410.0M149.5 446.0L237.7 418.0M149.5 446.0L237.7 422.0M149.5 450.0L237.7 414.0M149.5 450.0L237.7 422.0M149.5 453.0L237.7 426.0M149.5 453.0L237.7 436.4M149.5 332.8L237.7 381.0M149.5 342.9L237.7 378.0M149.5 373.4L237.7 338.2M149.5 378.5L237.7 350.5M149.5 447.0L237.7 390.0M149.5 382.0L237.7 354.0M237.7 377.5L325.8 384.8M237.7 377.5L325.8 403.0M237.7 382.0L325.8 365.7M237.7 382.0L325.8 403.0M237.7 386.0L325.8 390.4M237.7 386.0L325.8 365.7M237.7 390.0L325.8 384.8M237.7 390.0L325.8 370.2M237.7 394.0L325.8 390.4M237.7 394.0L325.8 413.5M237.7 398.0L325.8 413.5M237.7 398.0L325.8 413.5M237.7 402.0L325.8 384.8M237.7 402.0L325.8 390.4M237.7 406.0L325.8 422.4M237.7 406.0L325.8 417.5M237.7 406.0L325.8 432.0M237.7 410.0L325.8 427.2M237.7 410.0L325.8 403.0M237.7 414.0L325.8 432.0M237.7 414.0L325.8 427.2M237.7 418.0L325.8 417.5M237.7 418.0L325.8 417.5M237.7 422.0L325.8 422.4M237.7 422.0L325.8 422.4M237.7 426.0L325.8 438.6M237.7 426.0L325.8 432.0M237.7 436.4L325.8 438.6M237.7 445.0L325.8 427.2M237.7 338.2L325.8 332.0M237.7 350.5L325.8 355.6M237.7 354.0L325.8 403.0M237.7 378.0L325.8 370.2M237.7 410.0L325.8 365.7M325.8 365.7L414.1 366.2M325.8 365.7L414.1 366.2M325.8 370.2L414.1 371.0M325.8 370.2L414.1 384.8M325.8 384.8L414.1 409.4M325.8 390.4L414.1 378.3M325.8 390.4L414.1 405.4M325.8 403.0L414.1 415.0M325.8 403.0L414.1 400.5M325.8 413.5L414.1 389.6M325.8 413.5L414.1 415.0M325.8 413.5L414.1 419.0M325.8 417.5L414.1 438.6M325.8 417.5L414.1 425.6M325.8 417.5L414.1 438.6M325.8 422.4L414.1 409.4M325.8 422.4L414.1 400.5M325.8 422.4L414.1 400.5M325.8 422.4L414.1 405.4M325.8 427.2L414.1 419.0M325.8 427.2L414.1 432.0M325.8 427.2L414.1 415.0M325.8 432.0L414.1 441.8M325.8 432.0L414.1 432.0M325.8 432.0L414.1 425.6M325.8 438.6L414.1 432.0M325.8 438.6L414.1 452.3M325.8 438.6L414.1 441.8M325.8 332.0L414.1 338.5M325.8 355.6L414.1 371.0M325.8 365.7L414.1 385.0M325.8 427.2L414.1 452.3M325.8 432.0L414.1 452.3" stroke="#000" stroke-width="1.25" fill="none"/>
<g fill="#000"><circle cx="149.5" cy="332.8" r="4.4"/><circle cx="149.5" cy="342.9" r="4.4"/><circle cx="149.5" cy="373.4" r="4.4"/><circle cx="149.5" cy="378.5" r="4.4"/><circle cx="149.5" cy="382" r="4.4"/><circle cx="149.5" cy="386" r="4.4"/><circle cx="149.5" cy="390" r="4.4"/><circle cx="149.5" cy="394" r="4.4"/><circle cx="149.5" cy="402.8" r="4.4"/><circle cx="149.5" cy="409.7" r="4.4"/><circle cx="149.5" cy="424.3" r="4.4"/><circle cx="149.5" cy="428.7" r="4.4"/><circle cx="149.5" cy="442" r="4.4"/><circle cx="149.5" cy="446" r="4.4"/><circle cx="149.5" cy="450" r="4.4"/><circle cx="149.5" cy="453" r="4.4"/><circle cx="237.7" cy="338.2" r="4.4"/><circle cx="237.7" cy="350.5" r="4.4"/><circle cx="237.7" cy="354" r="4.4"/><circle cx="237.7" cy="377.5" r="4.4"/><circle cx="237.7" cy="382" r="4.4"/><circle cx="237.7" cy="386" r="4.4"/><circle cx="237.7" cy="390" r="4.4"/><circle cx="237.7" cy="394" r="4.4"/><circle cx="237.7" cy="398" r="4.4"/><circle cx="237.7" cy="402" r="4.4"/><circle cx="237.7" cy="406" r="4.4"/><circle cx="237.7" cy="410" r="4.4"/><circle cx="237.7" cy="414" r="4.4"/><circle cx="237.7" cy="418" r="4.4"/><circle cx="237.7" cy="422" r="4.4"/><circle cx="237.7" cy="426" r="4.4"/><circle cx="237.7" cy="436.4" r="4.4"/><circle cx="237.7" cy="445" r="4.4"/><circle cx="325.8" cy="332" r="4.4"/><circle cx="325.8" cy="355.6" r="4.4"/><circle cx="325.8" cy="365.7" r="4.4"/><circle cx="325.8" cy="370.2" r="4.4"/><circle cx="325.8" cy="384.8" r="4.4"/><circle cx="325.8" cy="390.4" r="4.4"/><circle cx="325.8" cy="403" r="4.4"/><circle cx="325.8" cy="413.5" r="4.4"/><circle cx="325.8" cy="417.5" r="4.4"/><circle cx="325.8" cy="422.4" r="4.4"/><circle cx="325.8" cy="427.2" r="4.4"/><circle cx="325.8" cy="432" r="4.4"/><circle cx="325.8" cy="438.6" r="4.4"/><circle cx="414.1" cy="338.5" r="4.4"/><circle cx="414.1" cy="366.2" r="4.4"/><circle cx="414.1" cy="371" r="4.4"/><circle cx="414.1" cy="378.3" r="4.4"/><circle cx="414.1" cy="384.8" r="4.4"/><circle cx="414.1" cy="389.6" r="4.4"/><circle cx="414.1" cy="400.5" r="4.4"/><circle cx="414.1" cy="405.4" r="4.4"/><circle cx="414.1" cy="409.4" r="4.4"/><circle cx="414.1" cy="415" r="4.4"/><circle cx="414.1" cy="419" r="4.4"/><circle cx="414.1" cy="425.6" r="4.4"/><circle cx="414.1" cy="432" r="4.4"/><circle cx="414.1" cy="438.6" r="4.4"/><circle cx="414.1" cy="441.8" r="4.4"/><circle cx="414.1" cy="452.3" r="4.4"/></g>
<text x="3.4" y="651.6" font-family="Liberation Sans, sans-serif" font-weight="bold" font-size="17.5" fill="#000">C</text>
<path d="M103.2 661.1V953M96.5 661.1H103.2M96.5 707.2H103.2M96.5 753.3H103.2M96.5 799.5H103.2M99.3 836.6H107M96.5 952.9H409.2" stroke="#333" stroke-width="1.5" fill="none"/>
<path d="M101.2 842H401.5" stroke="#000" stroke-width="2.2" stroke-dasharray="8.5 6.9" fill="none"/>
<path d="M96.3 842H103.5" stroke="#111" stroke-width="2" fill="none"/>
<text x="94.6" y="667.4" font-family="Liberation Sans, sans-serif" font-size="17.6" text-anchor="end" fill="#111">20</text>
<text x="94.6" y="713.5" font-family="Liberation Sans, sans-serif" font-size="17.6" text-anchor="end" fill="#111">15</text>
<text x="94.6" y="759.6" font-family="Liberation Sans, sans-serif" font-size="17.6" text-anchor="end" fill="#111">10</text>
<text x="94.6" y="805.8" font-family="Liberation Sans, sans-serif" font-size="17.6" text-anchor="end" fill="#111">5</text>
<text x="94.6" y="848.6" font-family="Liberation Sans, sans-serif" font-size="17.6" text-anchor="end" fill="#111">1</text>
<text x="94.6" y="959.2" font-family="Liberation Sans, sans-serif" font-size="17.6" text-anchor="end" fill="#111">0</text>
<g fill="#000"><circle cx="199.9" cy="722.7" r="2.6"/><circle cx="190" cy="731.9" r="2.6"/><circle cx="190" cy="776.9" r="2.6"/><circle cx="199.9" cy="779.2" r="2.6"/><circle cx="190" cy="787.8" r="2.6"/><circle cx="190" cy="803.5" r="2.6"/><circle cx="179.6" cy="811.5" r="2.6"/><circle cx="179.6" cy="816.2" r="2.6"/><circle cx="190" cy="814.3" r="2.6"/><circle cx="199.9" cy="813.2" r="2.6"/><circle cx="149.6" cy="818.9" r="2.6"/><circle cx="159.5" cy="821.2" r="2.6"/><circle cx="169.7" cy="823.5" r="2.6"/><circle cx="179.6" cy="824.9" r="2.6"/><circle cx="190" cy="824.9" r="2.6"/><circle cx="199.9" cy="824.2" r="2.6"/><circle cx="210.1" cy="823.1" r="2.6"/><circle cx="220" cy="819.9" r="2.6"/><circle cx="229.9" cy="817.8" r="2.6"/><circle cx="149.6" cy="828.9" r="2.6"/><circle cx="159.5" cy="831.2" r="2.6"/><circle cx="169.7" cy="833.5" r="2.6"/><circle cx="179.6" cy="835.8" r="2.6"/><circle cx="190" cy="835.8" r="2.6"/><circle cx="199.9" cy="835.8" r="2.6"/><circle cx="210.1" cy="834.6" r="2.6"/><circle cx="220" cy="832.3" r="2.6"/><circle cx="229.9" cy="830.7" r="2.6"/></g>
<g fill="#fff" stroke="#000" stroke-width="1.1"><circle cx="300.8" cy="898.8" r="2.3"/><circle cx="310.8" cy="896" r="2.3"/><circle cx="321" cy="897.3" r="2.3"/><circle cx="341.2" cy="902.1" r="2.3"/><circle cx="310.8" cy="906" r="2.3"/><circle cx="321" cy="907.9" r="2.3"/><circle cx="331.2" cy="907.5" r="2.3"/><circle cx="351.2" cy="912.1" r="2.3"/><circle cx="291" cy="914.4" r="2.3"/><circle cx="300.7" cy="915" r="2.3"/><circle cx="341" cy="914.6" r="2.3"/><circle cx="310.8" cy="920.3" r="2.3"/><circle cx="321" cy="920.8" r="2.3"/><circle cx="331.1" cy="919.6" r="2.3"/><circle cx="336.3" cy="921.4" r="2.3"/><circle cx="315.9" cy="924.7" r="2.3"/><circle cx="326" cy="925.6" r="2.3"/><circle cx="280.6" cy="926.2" r="2.3"/><circle cx="291" cy="926.6" r="2.3"/><circle cx="300.7" cy="926.9" r="2.3"/><circle cx="341" cy="927" r="2.3"/><circle cx="351.2" cy="926.5" r="2.3"/><circle cx="361.3" cy="926.2" r="2.3"/><circle cx="310.8" cy="930" r="2.3"/><circle cx="321" cy="931" r="2.3"/><circle cx="326.1" cy="932.6" r="2.3"/><circle cx="331.1" cy="931" r="2.3"/><circle cx="310.8" cy="935.3" r="2.3"/><circle cx="280.6" cy="936.3" r="2.3"/><circle cx="291" cy="937.7" r="2.3"/><circle cx="341" cy="938" r="2.3"/><circle cx="351.2" cy="936.7" r="2.3"/><circle cx="361.3" cy="936.2" r="2.3"/><circle cx="300.7" cy="941.2" r="2.3"/><circle cx="310.8" cy="941.8" r="2.3"/><circle cx="321" cy="941.8" r="2.3"/><circle cx="331.1" cy="941.4" r="2.3"/><circle cx="351.2" cy="943.8" r="2.3"/><circle cx="300.7" cy="945.5" r="2.3"/><circle cx="310.8" cy="947.4" r="2.3"/><circle cx="331.1" cy="948.3" r="2.3"/><circle cx="341" cy="946.3" r="2.3"/><circle cx="321" cy="952.1" r="2.3"/></g>
<text x="141.2" y="981.2" font-family="Liberation Sans, sans-serif" font-weight="bold" font-size="16" fill="#000" textLength="89.8" lengthAdjust="spacingAndGlyphs">iNKT/T ≥ 10</text>
<text x="232" y="975.3" font-family="Liberation Sans, sans-serif" font-weight="bold" font-size="10.5" fill="#000" textLength="11.8" lengthAdjust="spacingAndGlyphs">-3</text>
<text x="289.2" y="981.2" font-family="Liberation Sans, sans-serif" font-weight="bold" font-size="16" fill="#000" textLength="89.5" lengthAdjust="spacingAndGlyphs">iNKT/T &lt; 10</text>
<text x="380" y="975.3" font-family="Liberation Sans, sans-serif" font-weight="bold" font-size="10.5" fill="#000" textLength="11.8" lengthAdjust="spacingAndGlyphs">-3</text>
<text transform="translate(19.2 936.5) rotate(-90)" font-family="Liberation Sans, sans-serif" font-weight="bold" font-size="17.3" fill="#000">Mean of longitudinally measured</text>
<text transform="translate(44.4 933.7) rotate(-90)" font-family="Liberation Sans, sans-serif" font-weight="bold" font-size="17.3" fill="#000">iNKT/10<tspan dy="-6" font-size="11.2">3</tspan><tspan dy="6"> T cell ratios per patient</tspan></text>
</svg></body></html>
